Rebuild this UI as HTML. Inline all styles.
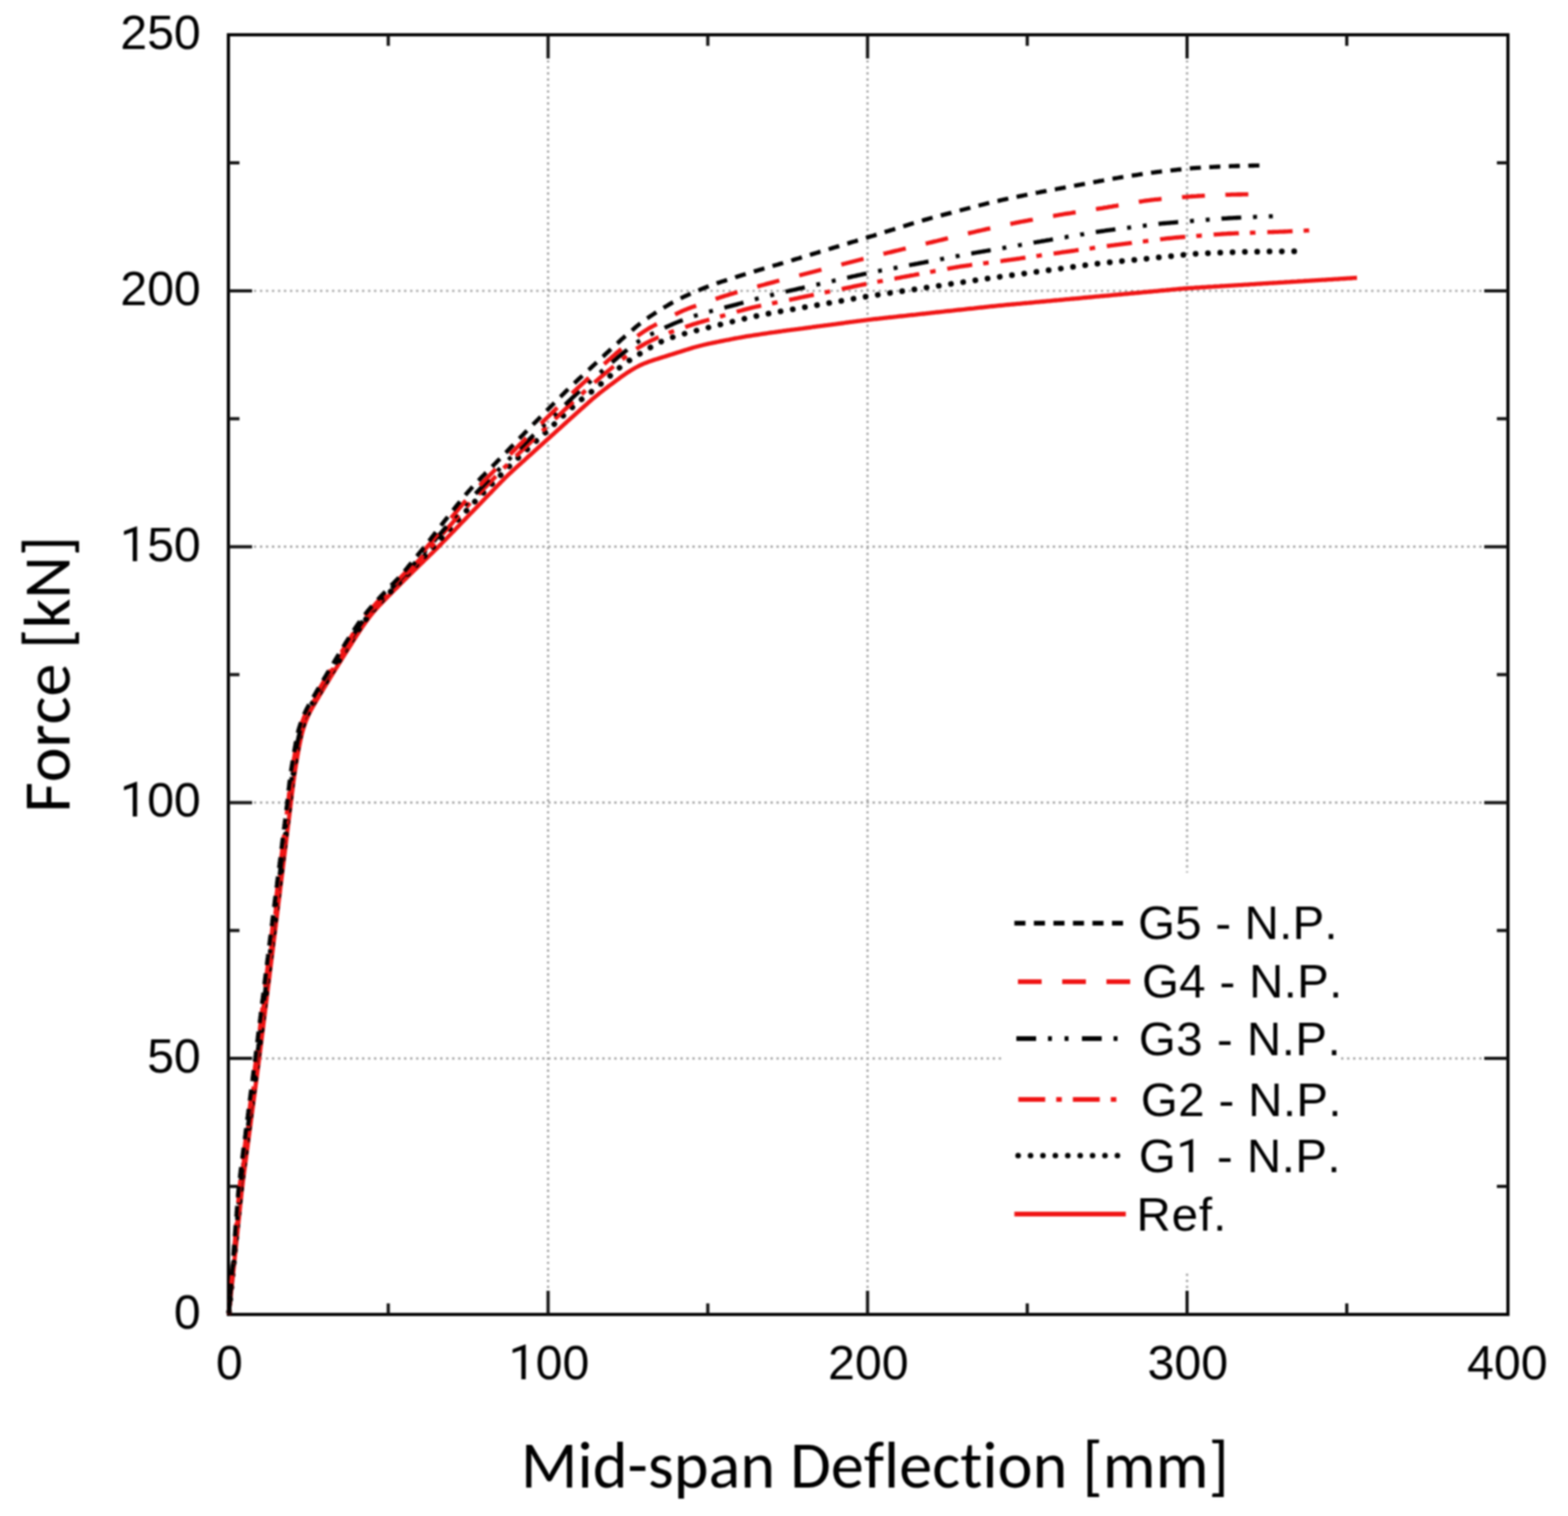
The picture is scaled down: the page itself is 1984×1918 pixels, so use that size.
<!DOCTYPE html>
<html><head><meta charset="utf-8"><title>Force vs Mid-span Deflection</title>
<style>html,body{margin:0;padding:0;background:#fff;width:1984px;height:1918px;overflow:hidden}svg{display:block;filter:blur(1px)}</style>
</head><body>
<svg width="1984" height="1918" viewBox="0 0 1984 1918">
<rect width="1984" height="1918" fill="#fff"/>
<path d="M693.5,46.0 V1661.0 M1097.7,46.0 V1661.0 M1502.0,46.0 V1661.0 M291.0,1339.1 H1906.0 M291.0,1015.4 H1906.0 M291.0,691.7 H1906.0 M291.0,368.0 H1906.0" stroke="#999999" stroke-width="2.7" stroke-dasharray="2.7 4.9" fill="none"/>
<rect x="289.0" y="44.0" width="1619.0" height="1619.0" fill="none" stroke="#000" stroke-width="4"/>
<path d="M491.3,1663.0 v-14.0 M491.3,44.0 v14.0 M693.5,1663.0 v-30.0 M693.5,44.0 v30.0 M895.6,1663.0 v-14.0 M895.6,44.0 v14.0 M1097.7,1663.0 v-30.0 M1097.7,44.0 v30.0 M1299.8,1663.0 v-14.0 M1299.8,44.0 v14.0 M1502.0,1663.0 v-30.0 M1502.0,44.0 v30.0 M1704.1,1663.0 v-14.0 M1704.1,44.0 v14.0 M289.0,1501.0 h14.0 M1908.0,1501.0 h-14.0 M289.0,1339.1 h30.0 M1908.0,1339.1 h-30.0 M289.0,1177.2 h14.0 M1908.0,1177.2 h-14.0 M289.0,1015.4 h30.0 M1908.0,1015.4 h-30.0 M289.0,853.5 h14.0 M1908.0,853.5 h-14.0 M289.0,691.7 h30.0 M1908.0,691.7 h-30.0 M289.0,529.8 h14.0 M1908.0,529.8 h-14.0 M289.0,368.0 h30.0 M1908.0,368.0 h-30.0 M289.0,206.1 h14.0 M1908.0,206.1 h-14.0" stroke="#111" stroke-width="4" fill="none"/>
<g fill="none" stroke-linejoin="round">
<path d="M289.5,1663.0 L289.7,1661.0 L289.9,1659.0 L290.1,1657.0 L290.3,1655.0 L290.5,1653.0 L290.8,1651.0 L291.0,1649.1 L291.2,1647.1 L291.4,1645.1 L291.6,1643.1 L291.8,1641.1 L292.0,1639.1 L292.2,1637.1 L292.4,1635.1 L292.6,1633.1 L292.8,1631.1 L293.1,1629.1 L293.3,1627.1 L293.5,1625.2 L293.7,1623.2 L293.9,1621.2 L294.1,1619.2 L294.3,1617.2 L294.5,1615.2 L294.7,1613.2 L294.9,1611.2 L295.1,1609.2 L295.4,1607.2 L295.6,1605.2 L295.8,1603.2 L296.0,1601.3 L296.2,1599.3 L296.4,1597.3 L296.6,1595.3 L296.8,1593.3 L297.0,1591.3 L297.2,1589.3 L297.4,1587.3 L297.7,1585.3 L297.9,1583.3 L298.1,1581.3 L298.3,1579.3 L298.5,1577.4 L298.7,1575.4 L298.9,1573.4 L299.1,1571.4 L299.3,1569.4 L299.5,1567.4 L299.7,1565.4 L300.0,1563.4 L300.2,1561.4 L300.4,1559.4 L300.6,1557.4 L300.8,1555.4 L301.0,1553.4 L301.2,1551.5 L301.4,1549.5 L301.6,1547.5 L301.8,1545.5 L302.0,1543.5 L302.3,1541.5 L302.5,1539.5 L302.7,1537.5 L302.9,1535.5 L303.1,1533.5 L303.3,1531.5 L303.5,1529.5 L303.7,1527.6 L303.9,1525.6 L304.1,1523.6 L304.3,1521.6 L304.6,1519.6 L304.8,1517.6 L305.0,1515.6 L305.2,1513.6 L305.4,1511.6 L305.6,1509.6 L305.8,1507.6 L306.1,1505.7 L306.3,1503.7 L306.5,1501.7 L306.8,1499.7 L307.0,1497.7 L307.2,1495.7 L307.5,1493.7 L307.7,1491.7 L308.0,1489.7 L308.3,1487.8 L308.5,1485.8 L308.8,1483.8 L309.0,1481.8 L309.3,1479.8 L309.6,1477.8 L309.8,1475.8 L310.1,1473.9 L310.4,1471.9 L310.6,1469.9 L310.9,1467.9 L311.2,1465.9 L311.4,1463.9 L311.7,1462.0 L311.9,1460.0 L312.2,1458.0 L312.5,1456.0 L312.7,1454.0 L313.0,1452.0 L313.3,1450.0 L313.5,1448.1 L313.8,1446.1 L314.1,1444.1 L314.3,1442.1 L314.6,1440.1 L314.8,1438.1 L315.1,1436.1 L315.4,1434.2 L315.6,1432.2 L315.9,1430.2 L316.2,1428.2 L316.4,1426.2 L316.7,1424.2 L317.0,1422.2 L317.2,1420.3 L317.5,1418.3 L317.7,1416.3 L318.0,1414.3 L318.3,1412.3 L318.5,1410.3 L318.8,1408.3 L319.1,1406.4 L319.3,1404.4 L319.6,1402.4 L319.9,1400.4 L320.1,1398.4 L320.4,1396.4 L320.6,1394.4 L320.9,1392.5 L321.2,1390.5 L321.4,1388.5 L321.7,1386.5 L322.0,1384.5 L322.2,1382.5 L322.5,1380.6 L322.7,1378.6 L323.0,1376.6 L323.3,1374.6 L323.5,1372.6 L323.8,1370.6 L324.1,1368.6 L324.3,1366.7 L324.6,1364.7 L324.9,1362.7 L325.1,1360.7 L325.4,1358.7 L325.6,1356.7 L325.9,1354.7 L326.2,1352.8 L326.4,1350.8 L326.7,1348.8 L327.0,1346.8 L327.2,1344.8 L327.5,1342.8 L327.7,1340.8 L328.0,1338.9 L328.2,1336.9 L328.5,1334.9 L328.7,1332.9 L329.0,1330.9 L329.2,1328.9 L329.5,1326.9 L329.7,1324.9 L330.0,1323.0 L330.2,1321.0 L330.5,1319.0 L330.7,1317.0 L331.0,1315.0 L331.2,1313.0 L331.5,1311.0 L331.7,1309.0 L332.0,1307.1 L332.2,1305.1 L332.5,1303.1 L332.7,1301.1 L333.0,1299.1 L333.2,1297.1 L333.4,1295.1 L333.7,1293.1 L333.9,1291.2 L334.2,1289.2 L334.4,1287.2 L334.7,1285.2 L334.9,1283.2 L335.2,1281.2 L335.4,1279.2 L335.7,1277.2 L335.9,1275.3 L336.2,1273.3 L336.4,1271.3 L336.7,1269.3 L336.9,1267.3 L337.2,1265.3 L337.4,1263.3 L337.6,1261.3 L337.9,1259.4 L338.1,1257.4 L338.4,1255.4 L338.6,1253.4 L338.9,1251.4 L339.1,1249.4 L339.4,1247.4 L339.6,1245.4 L339.9,1243.5 L340.1,1241.5 L340.4,1239.5 L340.6,1237.5 L340.9,1235.5 L341.1,1233.5 L341.3,1231.5 L341.6,1229.5 L341.8,1227.6 L342.1,1225.6 L342.3,1223.6 L342.6,1221.6 L342.8,1219.6 L343.1,1217.6 L343.3,1215.6 L343.6,1213.6 L343.8,1211.7 L344.1,1209.7 L344.3,1207.7 L344.6,1205.7 L344.8,1203.7 L345.1,1201.7 L345.3,1199.7 L345.5,1197.7 L345.8,1195.8 L346.0,1193.8 L346.3,1191.8 L346.5,1189.8 L346.8,1187.8 L347.0,1185.8 L347.3,1183.8 L347.5,1181.8 L347.8,1179.9 L348.0,1177.9 L348.3,1175.9 L348.5,1173.9 L348.8,1171.9 L349.0,1169.9 L349.2,1167.9 L349.5,1165.9 L349.7,1164.0 L350.0,1162.0 L350.2,1160.0 L350.5,1158.0 L350.7,1156.0 L351.0,1154.0 L351.2,1152.0 L351.5,1150.0 L351.7,1148.1 L351.9,1146.1 L352.2,1144.1 L352.4,1142.1 L352.7,1140.1 L352.9,1138.1 L353.2,1136.1 L353.4,1134.1 L353.7,1132.2 L353.9,1130.2 L354.2,1128.2 L354.4,1126.2 L354.6,1124.2 L354.9,1122.2 L355.1,1120.2 L355.4,1118.2 L355.6,1116.3 L355.9,1114.3 L356.1,1112.3 L356.4,1110.3 L356.6,1108.3 L356.9,1106.3 L357.1,1104.3 L357.3,1102.3 L357.6,1100.4 L357.8,1098.4 L358.1,1096.4 L358.3,1094.4 L358.6,1092.4 L358.8,1090.4 L359.1,1088.4 L359.3,1086.4 L359.5,1084.4 L359.8,1082.5 L360.0,1080.5 L360.3,1078.5 L360.5,1076.5 L360.8,1074.5 L361.0,1072.5 L361.3,1070.5 L361.5,1068.5 L361.8,1066.6 L362.0,1064.6 L362.2,1062.6 L362.5,1060.6 L362.7,1058.6 L363.0,1056.6 L363.2,1054.6 L363.5,1052.6 L363.7,1050.7 L364.0,1048.7 L364.2,1046.7 L364.5,1044.7 L364.7,1042.7 L364.9,1040.7 L365.2,1038.7 L365.4,1036.7 L365.7,1034.8 L365.9,1032.8 L366.2,1030.8 L366.4,1028.8 L366.7,1026.8 L366.9,1024.8 L367.2,1022.8 L367.4,1020.8 L367.6,1018.9 L367.9,1016.9 L368.1,1014.9 L368.4,1012.9 L368.6,1010.9 L368.9,1008.9 L369.1,1006.9 L369.3,1004.9 L369.6,1002.9 L369.8,1001.0 L370.1,999.0 L370.3,997.0 L370.6,995.0 L370.8,993.0 L371.1,991.0 L371.3,989.0 L371.6,987.1 L371.9,985.1 L372.1,983.1 L372.4,981.1 L372.7,979.1 L373.0,977.1 L373.3,975.2 L373.6,973.2 L373.9,971.2 L374.2,969.2 L374.5,967.2 L374.9,965.3 L375.2,963.3 L375.5,961.3 L375.9,959.3 L376.2,957.4 L376.5,955.4 L376.9,953.4 L377.2,951.5 L377.6,949.5 L377.9,947.5 L378.3,945.5 L378.7,943.6 L379.1,941.6 L379.5,939.6 L379.9,937.7 L380.3,935.7 L380.7,933.8 L381.1,931.8 L381.6,929.9 L382.1,927.9 L382.6,926.0 L383.1,924.1 L383.7,922.2 L384.3,920.2 L384.9,918.3 L385.5,916.5 L386.2,914.6 L386.9,912.7 L387.6,910.8 L388.4,909.0 L389.2,907.2 L390.0,905.3 L390.8,903.5 L391.7,901.7 L392.6,900.0 L393.5,898.2 L394.5,896.4 L395.5,894.7 L396.5,893.0 L397.5,891.2 L398.5,889.5 L399.5,887.8 L400.5,886.1 L401.6,884.4 L402.6,882.6 L403.6,880.9 L404.7,879.2 L405.7,877.5 L406.7,875.8 L407.8,874.1 L408.8,872.3 L409.8,870.6 L410.9,868.9 L411.9,867.2 L412.9,865.5 L414.0,863.8 L415.0,862.1 L416.1,860.4 L417.1,858.7 L418.2,856.9 L419.2,855.2 L420.3,853.5 L421.3,851.8 L422.4,850.1 L423.4,848.4 L424.5,846.7 L425.5,845.0 L426.6,843.3 L427.6,841.6 L428.7,839.9 L429.8,838.2 L430.8,836.5 L431.9,834.8 L432.9,833.1 L434.0,831.4 L435.1,829.7 L436.1,828.0 L437.2,826.3 L438.3,824.6 L439.3,822.9 L440.4,821.2 L441.5,819.6 L442.5,817.9 L443.6,816.2 L444.7,814.5 L445.7,812.8 L446.8,811.1 L447.9,809.4 L449.0,807.7 L450.0,806.0 L451.1,804.3 L452.2,802.6 L453.3,801.0 L454.4,799.3 L455.5,797.6 L456.6,796.0 L457.7,794.3 L458.8,792.6 L460.0,791.0 L461.1,789.3 L462.3,787.7 L463.4,786.1 L464.6,784.5 L465.8,782.8 L467.0,781.2 L468.2,779.6 L469.4,778.1 L470.7,776.5 L471.9,775.0 L473.2,773.4 L474.5,771.9 L475.8,770.4 L477.2,768.9 L478.5,767.5 L479.9,766.0 L481.3,764.6 L482.7,763.1 L484.1,761.7 L485.5,760.3 L486.9,758.8 L488.3,757.4 L489.7,756.0 L491.1,754.5 L492.5,753.1 L493.9,751.7 L495.3,750.3 L496.7,748.8 L498.1,747.4 L499.5,746.0 L500.9,744.6 L502.4,743.2 L503.8,741.7 L505.2,740.3 L506.6,738.9 L508.0,737.5 L509.4,736.1 L510.8,734.7 L512.3,733.2 L513.7,731.8 L515.1,730.4 L516.5,729.0 L518.0,727.6 L519.4,726.2 L520.8,724.8 L522.2,723.4 L523.7,722.0 L525.1,720.6 L526.6,719.2 L528.0,717.8 L529.4,716.4 L530.9,715.0 L532.3,713.6 L533.7,712.2 L535.2,710.8 L536.6,709.4 L538.0,708.0 L539.5,706.7 L540.9,705.3 L542.4,703.9 L543.8,702.5 L545.2,701.1 L546.7,699.7 L548.1,698.3 L549.5,696.9 L551.0,695.5 L552.4,694.1 L553.8,692.6 L555.2,691.2 L556.6,689.8 L558.0,688.4 L559.4,687.0 L560.8,685.5 L562.2,684.1 L563.6,682.7 L565.0,681.2 L566.4,679.8 L567.8,678.3 L569.2,676.9 L570.6,675.5 L572.0,674.0 L573.4,672.6 L574.8,671.1 L576.2,669.7 L577.5,668.3 L578.9,666.8 L580.3,665.4 L581.7,663.9 L583.1,662.5 L584.5,661.0 L585.9,659.6 L587.3,658.2 L588.7,656.7 L590.1,655.3 L591.5,653.8 L592.8,652.4 L594.2,651.0 L595.6,649.5 L597.0,648.1 L598.4,646.6 L599.8,645.2 L601.2,643.8 L602.6,642.3 L604.0,640.9 L605.4,639.4 L606.8,638.0 L608.2,636.6 L609.5,635.1 L610.9,633.7 L612.3,632.2 L613.7,630.8 L615.1,629.3 L616.5,627.9 L617.9,626.5 L619.3,625.0 L620.7,623.6 L622.1,622.1 L623.4,620.7 L624.8,619.3 L626.2,617.8 L627.6,616.4 L629.0,614.9 L630.4,613.5 L631.8,612.1 L633.2,610.6 L634.6,609.2 L636.0,607.8 L637.4,606.4 L638.8,604.9 L640.3,603.5 L641.7,602.1 L643.1,600.8 L644.6,599.4 L646.1,598.0 L647.5,596.7 L649.0,595.3 L650.5,593.9 L652.0,592.6 L653.4,591.3 L654.9,589.9 L656.4,588.6 L657.9,587.2 L659.4,585.9 L660.9,584.5 L662.4,583.2 L663.9,581.9 L665.3,580.5 L666.8,579.2 L668.3,577.8 L669.8,576.5 L671.3,575.2 L672.8,573.8 L674.3,572.5 L675.8,571.1 L677.2,569.8 L678.7,568.5 L680.2,567.1 L681.7,565.8 L683.2,564.4 L684.7,563.1 L686.2,561.8 L687.7,560.4 L689.1,559.1 L690.6,557.7 L692.1,556.4 L693.6,555.1 L695.1,553.7 L696.6,552.4 L698.1,551.0 L699.6,549.7 L701.1,548.4 L702.5,547.0 L704.0,545.7 L705.5,544.3 L707.0,543.0 L708.5,541.7 L710.0,540.3 L711.5,539.0 L713.0,537.6 L714.5,536.3 L715.9,535.0 L717.4,533.6 L718.9,532.3 L720.4,530.9 L721.9,529.6 L723.4,528.3 L724.9,526.9 L726.4,525.6 L727.9,524.2 L729.3,522.9 L730.8,521.6 L732.3,520.2 L733.8,518.9 L735.3,517.5 L736.8,516.2 L738.3,514.9 L739.8,513.6 L741.3,512.2 L742.8,510.9 L744.3,509.6 L745.8,508.3 L747.3,506.9 L748.8,505.6 L750.3,504.3 L751.9,503.0 L753.4,501.7 L754.9,500.5 L756.5,499.2 L758.0,497.9 L759.6,496.7 L761.2,495.5 L762.8,494.2 L764.4,493.0 L765.9,491.8 L767.5,490.6 L769.1,489.4 L770.7,488.2 L772.3,487.0 L773.9,485.8 L775.6,484.6 L777.2,483.4 L778.8,482.2 L780.4,481.0 L782.0,479.8 L783.6,478.6 L785.2,477.4 L786.8,476.3 L788.5,475.1 L790.1,474.0 L791.8,472.9 L793.4,471.7 L795.1,470.6 L796.8,469.6 L798.5,468.5 L800.2,467.5 L801.9,466.5 L803.6,465.5 L805.4,464.5 L807.2,463.6 L808.9,462.7 L810.7,461.8 L812.6,461.0 L814.4,460.2 L816.2,459.4 L818.1,458.7 L820.0,458.0 L821.8,457.3 L823.7,456.7 L825.6,456.0 L827.5,455.4 L829.4,454.8 L831.3,454.2 L833.2,453.6 L835.1,453.0 L837.1,452.4 L839.0,451.8 L840.9,451.2 L842.8,450.6 L844.7,450.0 L846.6,449.4 L848.5,448.8 L850.4,448.2 L852.3,447.6 L854.3,447.0 L856.2,446.4 L858.1,445.8 L860.0,445.2 L861.9,444.6 L863.8,444.0 L865.7,443.4 L867.6,442.8 L869.5,442.2 L871.4,441.6 L873.4,441.0 L875.3,440.4 L877.2,439.8 L879.1,439.3 L881.0,438.7 L883.0,438.2 L884.9,437.7 L886.8,437.2 L888.8,436.7 L890.7,436.2 L892.7,435.8 L894.6,435.3 L896.6,434.9 L898.5,434.5 L900.5,434.1 L902.5,433.7 L904.4,433.3 L906.4,432.9 L908.4,432.5 L910.3,432.1 L912.3,431.7 L914.2,431.3 L916.2,430.9 L918.2,430.5 L920.1,430.1 L922.1,429.8 L924.1,429.4 L926.0,429.0 L928.0,428.6 L930.0,428.2 L931.9,427.8 L933.9,427.5 L935.9,427.1 L937.8,426.8 L939.8,426.4 L941.8,426.1 L943.8,425.7 L945.7,425.4 L947.7,425.1 L949.7,424.8 L951.7,424.5 L953.6,424.2 L955.6,423.9 L957.6,423.6 L959.6,423.3 L961.6,423.0 L963.5,422.7 L965.5,422.4 L967.5,422.1 L969.5,421.8 L971.5,421.5 L973.5,421.2 L975.4,420.9 L977.4,420.6 L979.4,420.4 L981.4,420.1 L983.4,419.8 L985.3,419.5 L987.3,419.3 L989.3,419.0 L991.3,418.7 L993.3,418.5 L995.3,418.2 L997.3,417.9 L999.2,417.7 L1001.2,417.4 L1003.2,417.1 L1005.2,416.9 L1007.2,416.6 L1009.2,416.4 L1011.2,416.1 L1013.1,415.8 L1015.1,415.6 L1017.1,415.3 L1019.1,415.0 L1021.1,414.8 L1023.1,414.5 L1025.1,414.3 L1027.0,414.0 L1029.0,413.7 L1031.0,413.5 L1033.0,413.2 L1035.0,412.9 L1037.0,412.7 L1039.0,412.4 L1040.9,412.2 L1042.9,411.9 L1044.9,411.6 L1046.9,411.4 L1048.9,411.1 L1050.9,410.9 L1052.9,410.6 L1054.8,410.3 L1056.8,410.1 L1058.8,409.8 L1060.8,409.5 L1062.8,409.3 L1064.8,409.0 L1066.8,408.8 L1068.7,408.5 L1070.7,408.2 L1072.7,408.0 L1074.7,407.7 L1076.7,407.4 L1078.7,407.2 L1080.7,406.9 L1082.6,406.7 L1084.6,406.4 L1086.6,406.1 L1088.6,405.9 L1090.6,405.6 L1092.6,405.4 L1094.6,405.1 L1096.5,404.9 L1098.5,404.6 L1100.5,404.4 L1102.5,404.2 L1104.5,403.9 L1106.5,403.7 L1108.5,403.5 L1110.5,403.3 L1112.5,403.0 L1114.4,402.8 L1116.4,402.6 L1118.4,402.4 L1120.4,402.2 L1122.4,402.0 L1124.4,401.7 L1126.4,401.5 L1128.4,401.3 L1130.4,401.1 L1132.4,400.9 L1134.4,400.7 L1136.4,400.4 L1138.3,400.2 L1140.3,400.0 L1142.3,399.8 L1144.3,399.6 L1146.3,399.4 L1148.3,399.1 L1150.3,398.9 L1152.3,398.7 L1154.3,398.5 L1156.3,398.3 L1158.3,398.1 L1160.2,397.8 L1162.2,397.6 L1164.2,397.4 L1166.2,397.2 L1168.2,397.0 L1170.2,396.8 L1172.2,396.5 L1174.2,396.3 L1176.2,396.1 L1178.2,395.9 L1180.2,395.7 L1182.1,395.5 L1184.1,395.2 L1186.1,395.0 L1188.1,394.8 L1190.1,394.6 L1192.1,394.4 L1194.1,394.2 L1196.1,393.9 L1198.1,393.7 L1200.1,393.5 L1202.1,393.3 L1204.0,393.1 L1206.0,392.9 L1208.0,392.6 L1210.0,392.4 L1212.0,392.2 L1214.0,392.0 L1216.0,391.8 L1218.0,391.6 L1220.0,391.4 L1222.0,391.1 L1224.0,390.9 L1225.9,390.7 L1227.9,390.5 L1229.9,390.3 L1231.9,390.1 L1233.9,389.8 L1235.9,389.6 L1237.9,389.4 L1239.9,389.2 L1241.9,389.0 L1243.9,388.8 L1245.9,388.5 L1247.8,388.3 L1249.8,388.1 L1251.8,387.9 L1253.8,387.7 L1255.8,387.5 L1257.8,387.3 L1259.8,387.1 L1261.8,386.9 L1263.8,386.7 L1265.8,386.5 L1267.8,386.3 L1269.8,386.1 L1271.8,385.9 L1273.8,385.7 L1275.7,385.5 L1277.7,385.4 L1279.7,385.2 L1281.7,385.0 L1283.7,384.8 L1285.7,384.6 L1287.7,384.4 L1289.7,384.3 L1291.7,384.1 L1293.7,383.9 L1295.7,383.7 L1297.7,383.5 L1299.7,383.3 L1301.7,383.2 L1303.7,383.0 L1305.7,382.8 L1307.7,382.6 L1309.7,382.4 L1311.6,382.2 L1313.6,382.1 L1315.6,381.9 L1317.6,381.7 L1319.6,381.5 L1321.6,381.3 L1323.6,381.1 L1325.6,380.9 L1327.6,380.8 L1329.6,380.6 L1331.6,380.4 L1333.6,380.2 L1335.6,380.0 L1337.6,379.8 L1339.6,379.7 L1341.6,379.5 L1343.6,379.3 L1345.6,379.1 L1347.5,378.9 L1349.5,378.7 L1351.5,378.6 L1353.5,378.4 L1355.5,378.2 L1357.5,378.0 L1359.5,377.8 L1361.5,377.6 L1363.5,377.5 L1365.5,377.3 L1367.5,377.1 L1369.5,376.9 L1371.5,376.7 L1373.5,376.5 L1375.5,376.4 L1377.5,376.2 L1379.5,376.0 L1381.4,375.8 L1383.4,375.6 L1385.4,375.4 L1387.4,375.2 L1389.4,375.1 L1391.4,374.9 L1393.4,374.7 L1395.4,374.5 L1397.4,374.3 L1399.4,374.1 L1401.4,374.0 L1403.4,373.8 L1405.4,373.6 L1407.4,373.4 L1409.4,373.2 L1411.4,373.0 L1413.4,372.9 L1415.4,372.7 L1417.3,372.5 L1419.3,372.3 L1421.3,372.1 L1423.3,371.9 L1425.3,371.8 L1427.3,371.6 L1429.3,371.4 L1431.3,371.2 L1433.3,371.0 L1435.3,370.8 L1437.3,370.6 L1439.3,370.5 L1441.3,370.3 L1443.3,370.1 L1445.3,369.9 L1447.3,369.7 L1449.3,369.5 L1451.2,369.4 L1453.2,369.2 L1455.2,369.0 L1457.2,368.8 L1459.2,368.6 L1461.2,368.4 L1463.2,368.3 L1465.2,368.1 L1467.2,367.9 L1469.2,367.7 L1471.2,367.5 L1473.2,367.3 L1475.2,367.2 L1477.2,367.0 L1479.2,366.8 L1481.2,366.6 L1483.2,366.4 L1485.2,366.2 L1487.1,366.1 L1489.1,365.9 L1491.1,365.7 L1493.1,365.5 L1495.1,365.4 L1497.1,365.2 L1499.1,365.0 L1501.1,364.9 L1503.1,364.7 L1505.1,364.6 L1507.1,364.4 L1509.1,364.3 L1511.1,364.2 L1513.1,364.0 L1515.1,363.9 L1517.1,363.8 L1519.1,363.6 L1521.1,363.5 L1523.1,363.4 L1525.1,363.3 L1527.1,363.1 L1529.1,363.0 L1531.1,362.9 L1533.1,362.8 L1535.1,362.7 L1537.1,362.5 L1539.1,362.4 L1541.1,362.3 L1543.1,362.2 L1545.1,362.0 L1547.1,361.9 L1549.1,361.8 L1551.1,361.7 L1553.1,361.6 L1555.1,361.4 L1557.1,361.3 L1559.1,361.2 L1561.1,361.1 L1563.1,360.9 L1565.1,360.8 L1567.1,360.7 L1569.1,360.6 L1571.1,360.5 L1573.1,360.3 L1575.1,360.2 L1577.1,360.1 L1579.1,360.0 L1581.1,359.8 L1583.1,359.7 L1585.1,359.6 L1587.1,359.5 L1589.1,359.3 L1591.1,359.2 L1593.1,359.1 L1595.1,359.0 L1597.1,358.9 L1599.1,358.7 L1601.1,358.6 L1603.1,358.5 L1605.1,358.4 L1607.1,358.2 L1609.1,358.1 L1611.1,358.0 L1613.1,357.9 L1615.0,357.8 L1617.0,357.6 L1619.0,357.5 L1621.0,357.4 L1623.0,357.3 L1625.0,357.1 L1627.0,357.0 L1629.0,356.9 L1631.0,356.8 L1633.0,356.6 L1635.0,356.5 L1637.0,356.4 L1639.0,356.3 L1641.0,356.2 L1643.0,356.0 L1645.0,355.9 L1647.0,355.8 L1649.0,355.7 L1651.0,355.5 L1653.0,355.4 L1655.0,355.3 L1657.0,355.2 L1659.0,355.1 L1661.0,354.9 L1663.0,354.8 L1665.0,354.7 L1667.0,354.6 L1669.0,354.4 L1671.0,354.3 L1673.0,354.2 L1675.0,354.1 L1677.0,354.0 L1679.0,353.8 L1681.0,353.7 L1683.0,353.6 L1685.0,353.5 L1687.0,353.3 L1689.0,353.2 L1691.0,353.1 L1693.0,353.0 L1695.0,352.8 L1697.0,352.7 L1699.0,352.6 L1701.0,352.5 L1703.0,352.4 L1705.0,352.2 L1707.0,352.1 L1709.0,352.0 L1711.0,351.9 L1713.0,351.7 L1715.0,351.6 L1717.0,351.5" stroke="#f01414" stroke-width="5.3"/>
<path d="M289.5,1663.0 L289.7,1661.0 L289.9,1659.0 L290.1,1657.0 L290.3,1655.0 L290.5,1653.0 L290.7,1651.0 L290.8,1649.0 L291.0,1647.1 L291.2,1645.1 L291.4,1643.1 L291.6,1641.1 L291.8,1639.1 L292.0,1637.1 L292.2,1635.1 L292.4,1633.1 L292.6,1631.1 L292.8,1629.1 L293.0,1627.1 L293.2,1625.1 L293.4,1623.1 L293.5,1621.1 L293.7,1619.2 L293.9,1617.2 L294.1,1615.2 L294.3,1613.2 L294.5,1611.2 L294.7,1609.2 L294.9,1607.2 L295.1,1605.2 L295.3,1603.2 L295.5,1601.2 L295.7,1599.2 L295.9,1597.2 L296.0,1595.2 L296.2,1593.2 L296.4,1591.2 L296.6,1589.3 L296.8,1587.3 L297.0,1585.3 L297.2,1583.3 L297.4,1581.3 L297.6,1579.3 L297.8,1577.3 L298.0,1575.3 L298.2,1573.3 L298.4,1571.3 L298.5,1569.3 L298.7,1567.3 L298.9,1565.3 L299.1,1563.3 L299.3,1561.3 L299.5,1559.4 L299.7,1557.4 L299.9,1555.4 L300.1,1553.4 L300.3,1551.4 L300.5,1549.4 L300.7,1547.4 L300.9,1545.4 L301.1,1543.4 L301.2,1541.4 L301.4,1539.4 L301.6,1537.4 L301.8,1535.4 L302.0,1533.4 L302.2,1531.5 L302.4,1529.5 L302.6,1527.5 L302.8,1525.5 L303.0,1523.5 L303.2,1521.5 L303.4,1519.5 L303.6,1517.5 L303.8,1515.5 L304.0,1513.5 L304.2,1511.5 L304.4,1509.5 L304.6,1507.5 L304.8,1505.5 L305.0,1503.6 L305.2,1501.6 L305.4,1499.6 L305.7,1497.6 L305.9,1495.6 L306.2,1493.6 L306.4,1491.6 L306.7,1489.6 L306.9,1487.7 L307.2,1485.7 L307.4,1483.7 L307.7,1481.7 L308.0,1479.7 L308.2,1477.7 L308.5,1475.7 L308.7,1473.8 L309.0,1471.8 L309.3,1469.8 L309.5,1467.8 L309.8,1465.8 L310.0,1463.8 L310.3,1461.8 L310.6,1459.9 L310.8,1457.9 L311.1,1455.9 L311.4,1453.9 L311.6,1451.9 L311.9,1449.9 L312.1,1447.9 L312.4,1446.0 L312.7,1444.0 L312.9,1442.0 L313.2,1440.0 L313.5,1438.0 L313.7,1436.0 L314.0,1434.1 L314.2,1432.1 L314.5,1430.1 L314.8,1428.1 L315.0,1426.1 L315.3,1424.1 L315.5,1422.1 L315.8,1420.2 L316.1,1418.2 L316.3,1416.2 L316.6,1414.2 L316.9,1412.2 L317.1,1410.2 L317.4,1408.2 L317.6,1406.3 L317.9,1404.3 L318.2,1402.3 L318.4,1400.3 L318.7,1398.3 L318.9,1396.3 L319.2,1394.3 L319.5,1392.4 L319.7,1390.4 L320.0,1388.4 L320.3,1386.4 L320.5,1384.4 L320.8,1382.4 L321.0,1380.4 L321.3,1378.5 L321.6,1376.5 L321.8,1374.5 L322.1,1372.5 L322.3,1370.5 L322.6,1368.5 L322.9,1366.6 L323.1,1364.6 L323.4,1362.6 L323.7,1360.6 L323.9,1358.6 L324.2,1356.6 L324.4,1354.6 L324.7,1352.7 L325.0,1350.7 L325.2,1348.7 L325.5,1346.7 L325.7,1344.7 L326.0,1342.7 L326.2,1340.7 L326.5,1338.8 L326.8,1336.8 L327.0,1334.8 L327.3,1332.8 L327.5,1330.8 L327.8,1328.8 L328.0,1326.8 L328.3,1324.8 L328.5,1322.9 L328.8,1320.9 L329.0,1318.9 L329.2,1316.9 L329.5,1314.9 L329.7,1312.9 L330.0,1310.9 L330.2,1308.9 L330.5,1307.0 L330.7,1305.0 L331.0,1303.0 L331.2,1301.0 L331.5,1299.0 L331.7,1297.0 L332.0,1295.0 L332.2,1293.1 L332.5,1291.1 L332.7,1289.1 L332.9,1287.1 L333.2,1285.1 L333.4,1283.1 L333.7,1281.1 L333.9,1279.1 L334.2,1277.2 L334.4,1275.2 L334.7,1273.2 L334.9,1271.2 L335.2,1269.2 L335.4,1267.2 L335.7,1265.2 L335.9,1263.2 L336.2,1261.3 L336.4,1259.3 L336.7,1257.3 L336.9,1255.3 L337.1,1253.3 L337.4,1251.3 L337.6,1249.3 L337.9,1247.3 L338.1,1245.4 L338.4,1243.4 L338.6,1241.4 L338.9,1239.4 L339.1,1237.4 L339.4,1235.4 L339.6,1233.4 L339.9,1231.4 L340.1,1229.5 L340.4,1227.5 L340.6,1225.5 L340.8,1223.5 L341.1,1221.5 L341.3,1219.5 L341.6,1217.5 L341.8,1215.6 L342.1,1213.6 L342.3,1211.6 L342.6,1209.6 L342.8,1207.6 L343.1,1205.6 L343.3,1203.6 L343.6,1201.6 L343.8,1199.7 L344.1,1197.7 L344.3,1195.7 L344.6,1193.7 L344.8,1191.7 L345.0,1189.7 L345.3,1187.7 L345.5,1185.7 L345.8,1183.8 L346.0,1181.8 L346.3,1179.8 L346.5,1177.8 L346.8,1175.8 L347.0,1173.8 L347.3,1171.8 L347.5,1169.8 L347.8,1167.9 L348.0,1165.9 L348.3,1163.9 L348.5,1161.9 L348.8,1159.9 L349.0,1157.9 L349.2,1155.9 L349.5,1153.9 L349.7,1152.0 L350.0,1150.0 L350.2,1148.0 L350.5,1146.0 L350.7,1144.0 L351.0,1142.0 L351.2,1140.0 L351.5,1138.1 L351.7,1136.1 L352.0,1134.1 L352.2,1132.1 L352.5,1130.1 L352.7,1128.1 L353.0,1126.1 L353.2,1124.1 L353.4,1122.2 L353.7,1120.2 L353.9,1118.2 L354.2,1116.2 L354.4,1114.2 L354.7,1112.2 L354.9,1110.2 L355.2,1108.2 L355.4,1106.3 L355.7,1104.3 L355.9,1102.3 L356.2,1100.3 L356.4,1098.3 L356.7,1096.3 L356.9,1094.3 L357.2,1092.3 L357.4,1090.4 L357.6,1088.4 L357.9,1086.4 L358.1,1084.4 L358.4,1082.4 L358.6,1080.4 L358.9,1078.4 L359.1,1076.5 L359.4,1074.5 L359.6,1072.5 L359.9,1070.5 L360.1,1068.5 L360.4,1066.5 L360.6,1064.5 L360.9,1062.5 L361.1,1060.6 L361.4,1058.6 L361.6,1056.6 L361.8,1054.6 L362.1,1052.6 L362.3,1050.6 L362.6,1048.6 L362.8,1046.6 L363.1,1044.7 L363.3,1042.7 L363.6,1040.7 L363.8,1038.7 L364.1,1036.7 L364.3,1034.7 L364.6,1032.7 L364.8,1030.7 L365.1,1028.8 L365.3,1026.8 L365.5,1024.8 L365.8,1022.8 L366.0,1020.8 L366.3,1018.8 L366.5,1016.8 L366.8,1014.8 L367.0,1012.9 L367.2,1010.9 L367.5,1008.9 L367.7,1006.9 L367.9,1004.9 L368.2,1002.9 L368.4,1000.9 L368.6,998.9 L368.9,996.9 L369.1,995.0 L369.4,993.0 L369.6,991.0 L369.9,989.0 L370.1,987.0 L370.4,985.0 L370.7,983.0 L371.0,981.1 L371.2,979.1 L371.5,977.1 L371.8,975.1 L372.1,973.1 L372.4,971.2 L372.7,969.2 L373.1,967.2 L373.4,965.2 L373.7,963.3 L374.0,961.3 L374.4,959.3 L374.7,957.3 L375.0,955.4 L375.4,953.4 L375.7,951.4 L376.1,949.4 L376.4,947.5 L376.8,945.5 L377.2,943.5 L377.5,941.6 L377.9,939.6 L378.3,937.6 L378.7,935.7 L379.1,933.7 L379.6,931.8 L380.0,929.8 L380.5,927.9 L381.0,926.0 L381.6,924.0 L382.1,922.1 L382.7,920.2 L383.3,918.3 L383.9,916.4 L384.6,914.5 L385.3,912.6 L386.0,910.8 L386.8,908.9 L387.5,907.1 L388.3,905.3 L389.2,903.4 L390.0,901.6 L390.9,899.9 L391.8,898.1 L392.8,896.3 L393.7,894.6 L394.7,892.8 L395.7,891.1 L396.7,889.3 L397.7,887.6 L398.7,885.9 L399.7,884.2 L400.8,882.4 L401.8,880.7 L402.8,879.0 L403.8,877.3 L404.9,875.6 L405.9,873.8 L406.9,872.1 L407.9,870.4 L409.0,868.7 L410.0,867.0 L411.0,865.2 L412.0,863.5 L413.1,861.8 L414.1,860.1 L415.2,858.4 L416.2,856.7 L417.2,855.0 L418.3,853.3 L419.3,851.5 L420.4,849.8 L421.4,848.1 L422.5,846.4 L423.5,844.7 L424.6,843.0 L425.6,841.3 L426.7,839.6 L427.7,837.9 L428.8,836.2 L429.8,834.5 L430.9,832.8 L431.9,831.1 L433.0,829.4 L434.0,827.7 L435.1,826.0 L436.2,824.3 L437.2,822.6 L438.3,820.9 L439.3,819.2 L440.4,817.5 L441.5,815.8 L442.5,814.1 L443.6,812.4 L444.7,810.7 L445.7,809.0 L446.8,807.3 L447.9,805.6 L449.0,804.0 L450.1,802.3 L451.2,800.6 L452.3,798.9 L453.4,797.3 L454.5,795.6 L455.6,793.9 L456.7,792.3 L457.9,790.6 L459.0,789.0 L460.2,787.4 L461.3,785.7 L462.5,784.1 L463.7,782.5 L464.9,780.9 L466.1,779.3 L467.4,777.8 L468.6,776.2 L469.9,774.6 L471.2,773.1 L472.4,771.6 L473.8,770.1 L475.1,768.6 L476.4,767.1 L477.8,765.6 L479.1,764.1 L480.5,762.6 L481.8,761.2 L483.2,759.7 L484.6,758.3 L486.0,756.9 L487.4,755.4 L488.8,754.0 L490.2,752.5 L491.6,751.1 L493.0,749.7 L494.4,748.3 L495.8,746.8 L497.2,745.4 L498.6,744.0 L500.0,742.5 L501.4,741.1 L502.8,739.7 L504.2,738.2 L505.6,736.8 L507.0,735.4 L508.4,733.9 L509.8,732.5 L511.2,731.0 L512.5,729.6 L513.9,728.2 L515.3,726.7 L516.7,725.2 L518.1,723.8 L519.4,722.3 L520.8,720.9 L522.2,719.4 L523.6,718.0 L525.0,716.5 L526.4,715.1 L527.7,713.6 L529.1,712.2 L530.5,710.7 L531.9,709.3 L533.3,707.8 L534.6,706.4 L536.0,704.9 L537.4,703.5 L538.8,702.0 L540.1,700.6 L541.5,699.1 L542.9,697.7 L544.3,696.2 L545.6,694.7 L547.0,693.3 L548.4,691.8 L549.7,690.3 L551.1,688.9 L552.4,687.4 L553.8,685.9 L555.2,684.5 L556.5,683.0 L557.9,681.5 L559.2,680.0 L560.6,678.5 L561.9,677.1 L563.3,675.6 L564.6,674.1 L565.9,672.6 L567.3,671.1 L568.6,669.7 L570.0,668.2 L571.3,666.7 L572.7,665.2 L574.0,663.7 L575.4,662.2 L576.7,660.8 L578.1,659.3 L579.4,657.8 L580.8,656.3 L582.1,654.8 L583.5,653.4 L584.8,651.9 L586.2,650.4 L587.5,648.9 L588.9,647.5 L590.3,646.0 L591.6,644.5 L593.0,643.1 L594.4,641.6 L595.7,640.2 L597.1,638.7 L598.5,637.2 L599.9,635.8 L601.2,634.3 L602.6,632.9 L604.0,631.4 L605.4,630.0 L606.8,628.6 L608.2,627.1 L609.6,625.7 L611.0,624.2 L612.3,622.8 L613.7,621.4 L615.1,619.9 L616.5,618.5 L617.9,617.1 L619.3,615.6 L620.7,614.2 L622.1,612.7 L623.5,611.3 L624.9,609.9 L626.3,608.4 L627.7,607.0 L629.1,605.6 L630.5,604.1 L631.9,602.7 L633.3,601.3 L634.7,599.8 L636.1,598.4 L637.5,597.0 L638.9,595.6 L640.3,594.1 L641.7,592.7 L643.2,591.3 L644.6,589.9 L646.0,588.5 L647.5,587.1 L648.9,585.8 L650.4,584.4 L651.8,583.0 L653.3,581.6 L654.7,580.2 L656.2,578.9 L657.6,577.5 L659.1,576.1 L660.6,574.8 L662.0,573.4 L663.5,572.0 L664.9,570.7 L666.4,569.3 L667.9,567.9 L669.3,566.5 L670.8,565.2 L672.3,563.8 L673.7,562.4 L675.2,561.1 L676.6,559.7 L678.1,558.3 L679.6,557.0 L681.0,555.6 L682.5,554.2 L684.0,552.9 L685.4,551.5 L686.9,550.1 L688.3,548.8 L689.8,547.4 L691.3,546.0 L692.7,544.7 L694.2,543.3 L695.7,541.9 L697.1,540.6 L698.6,539.2 L700.0,537.8 L701.5,536.5 L703.0,535.1 L704.4,533.7 L705.9,532.4 L707.4,531.0 L708.8,529.6 L710.3,528.3 L711.8,526.9 L713.2,525.5 L714.7,524.2 L716.2,522.8 L717.6,521.5 L719.1,520.1 L720.6,518.7 L722.1,517.4 L723.5,516.0 L725.0,514.7 L726.5,513.4 L728.0,512.0 L729.5,510.7 L731.0,509.4 L732.5,508.1 L734.0,506.8 L735.6,505.5 L737.1,504.3 L738.7,503.0 L740.2,501.8 L741.8,500.6 L743.4,499.4 L745.0,498.2 L746.6,497.0 L748.1,495.8 L749.7,494.5 L751.3,493.3 L752.8,492.0 L754.4,490.7 L755.9,489.5 L757.4,488.2 L759.0,486.9 L760.5,485.6 L762.0,484.3 L763.5,483.0 L765.0,481.7 L766.5,480.4 L768.1,479.0 L769.6,477.7 L771.1,476.4 L772.5,475.1 L774.0,473.7 L775.5,472.4 L777.0,471.1 L778.5,469.8 L780.1,468.5 L781.6,467.2 L783.1,465.9 L784.7,464.6 L786.2,463.4 L787.8,462.1 L789.4,460.9 L791.0,459.7 L792.6,458.5 L794.2,457.4 L795.9,456.3 L797.5,455.2 L799.2,454.1 L800.9,453.0 L802.6,451.9 L804.3,450.9 L806.0,449.8 L807.7,448.8 L809.4,447.7 L811.1,446.7 L812.8,445.7 L814.6,444.6 L816.3,443.6 L818.0,442.6 L819.7,441.5 L821.4,440.5 L823.2,439.5 L824.9,438.5 L826.6,437.5 L828.4,436.6 L830.2,435.6 L831.9,434.7 L833.7,433.8 L835.5,432.9 L837.3,432.0 L839.1,431.2 L840.9,430.4 L842.8,429.7 L844.6,428.9 L846.5,428.2 L848.4,427.5 L850.3,426.9 L852.2,426.3 L854.1,425.7 L856.0,425.1 L857.9,424.5 L859.8,423.9 L861.7,423.4 L863.7,422.8 L865.6,422.3 L867.5,421.8 L869.5,421.3 L871.4,420.8 L873.3,420.2 L875.3,419.7 L877.2,419.2 L879.2,418.7 L881.1,418.2 L883.0,417.7 L885.0,417.3 L886.9,416.8 L888.9,416.3 L890.8,415.8 L892.7,415.3 L894.7,414.8 L896.6,414.3 L898.6,413.9 L900.5,413.4 L902.5,412.9 L904.4,412.4 L906.3,411.9 L908.3,411.4 L910.2,410.9 L912.2,410.4 L914.1,410.0 L916.1,409.5 L918.0,409.0 L919.9,408.5 L921.9,408.0 L923.8,407.6 L925.8,407.1 L927.7,406.6 L929.7,406.1 L931.6,405.7 L933.6,405.2 L935.5,404.7 L937.5,404.3 L939.4,403.8 L941.4,403.4 L943.3,402.9 L945.3,402.5 L947.2,402.0 L949.2,401.6 L951.1,401.2 L953.1,400.7 L955.0,400.3 L957.0,399.9 L959.0,399.5 L960.9,399.1 L962.9,398.7 L964.8,398.2 L966.8,397.8 L968.8,397.4 L970.7,397.1 L972.7,396.7 L974.7,396.3 L976.6,395.9 L978.6,395.6 L980.6,395.2 L982.5,394.9 L984.5,394.5 L986.5,394.2 L988.5,393.8 L990.4,393.5 L992.4,393.1 L994.4,392.8 L996.3,392.5 L998.3,392.1 L1000.3,391.8 L1002.3,391.4 L1004.2,391.1 L1006.2,390.8 L1008.2,390.4 L1010.2,390.1 L1012.1,389.7 L1014.1,389.4 L1016.1,389.0 L1018.0,388.7 L1020.0,388.4 L1022.0,388.0 L1024.0,387.7 L1025.9,387.3 L1027.9,387.0 L1029.9,386.7 L1031.9,386.3 L1033.8,386.0 L1035.8,385.6 L1037.8,385.3 L1039.8,385.0 L1041.7,384.6 L1043.7,384.3 L1045.7,383.9 L1047.6,383.6 L1049.6,383.2 L1051.6,382.9 L1053.6,382.6 L1055.5,382.2 L1057.5,381.9 L1059.5,381.5 L1061.5,381.2 L1063.4,380.9 L1065.4,380.5 L1067.4,380.2 L1069.3,379.8 L1071.3,379.5 L1073.3,379.1 L1075.3,378.8 L1077.2,378.5 L1079.2,378.1 L1081.2,377.8 L1083.2,377.4 L1085.1,377.1 L1087.1,376.8 L1089.1,376.4 L1091.1,376.1 L1093.0,375.8 L1095.0,375.4 L1097.0,375.1 L1099.0,374.8 L1100.9,374.5 L1102.9,374.2 L1104.9,373.9 L1106.9,373.6 L1108.9,373.3 L1110.8,373.0 L1112.8,372.7 L1114.8,372.4 L1116.8,372.1 L1118.8,371.8 L1120.7,371.5 L1122.7,371.2 L1124.7,370.9 L1126.7,370.6 L1128.7,370.3 L1130.6,370.0 L1132.6,369.7 L1134.6,369.4 L1136.6,369.1 L1138.6,368.8 L1140.5,368.5 L1142.5,368.2 L1144.5,367.9 L1146.5,367.6 L1148.5,367.4 L1150.4,367.1 L1152.4,366.8 L1154.4,366.5 L1156.4,366.2 L1158.4,365.9 L1160.3,365.6 L1162.3,365.3 L1164.3,365.0 L1166.3,364.7 L1168.3,364.4 L1170.3,364.1 L1172.2,363.8 L1174.2,363.5 L1176.2,363.2 L1178.2,362.9 L1180.2,362.6 L1182.1,362.4 L1184.1,362.1 L1186.1,361.8 L1188.1,361.5 L1190.1,361.2 L1192.0,360.9 L1194.0,360.6 L1196.0,360.3 L1198.0,360.0 L1200.0,359.7 L1201.9,359.4 L1203.9,359.1 L1205.9,358.8 L1207.9,358.5 L1209.9,358.2 L1211.8,357.9 L1213.8,357.6 L1215.8,357.4 L1217.8,357.1 L1219.8,356.8 L1221.8,356.5 L1223.7,356.2 L1225.7,355.9 L1227.7,355.6 L1229.7,355.3 L1231.7,355.0 L1233.6,354.7 L1235.6,354.4 L1237.6,354.1 L1239.6,353.8 L1241.6,353.5 L1243.5,353.3 L1245.5,353.0 L1247.5,352.7 L1249.5,352.4 L1251.5,352.1 L1253.5,351.8 L1255.4,351.6 L1257.4,351.3 L1259.4,351.0 L1261.4,350.8 L1263.4,350.5 L1265.4,350.2 L1267.3,349.9 L1269.3,349.7 L1271.3,349.4 L1273.3,349.1 L1275.3,348.9 L1277.3,348.6 L1279.2,348.3 L1281.2,348.1 L1283.2,347.8 L1285.2,347.5 L1287.2,347.3 L1289.2,347.0 L1291.2,346.7 L1293.1,346.4 L1295.1,346.2 L1297.1,345.9 L1299.1,345.6 L1301.1,345.4 L1303.1,345.1 L1305.0,344.8 L1307.0,344.6 L1309.0,344.3 L1311.0,344.0 L1313.0,343.8 L1315.0,343.5 L1316.9,343.2 L1318.9,343.0 L1320.9,342.7 L1322.9,342.4 L1324.9,342.1 L1326.9,341.9 L1328.9,341.6 L1330.8,341.3 L1332.8,341.1 L1334.8,340.8 L1336.8,340.5 L1338.8,340.2 L1340.8,340.0 L1342.7,339.7 L1344.7,339.4 L1346.7,339.2 L1348.7,338.9 L1350.7,338.6 L1352.7,338.3 L1354.6,338.1 L1356.6,337.8 L1358.6,337.5 L1360.6,337.2 L1362.6,337.0 L1364.6,336.7 L1366.5,336.4 L1368.5,336.2 L1370.5,335.9 L1372.5,335.6 L1374.5,335.4 L1376.5,335.1 L1378.5,334.8 L1380.4,334.6 L1382.4,334.3 L1384.4,334.1 L1386.4,333.8 L1388.4,333.6 L1390.4,333.4 L1392.4,333.1 L1394.4,332.9 L1396.3,332.7 L1398.3,332.5 L1400.3,332.3 L1402.3,332.1 L1404.3,331.9 L1406.3,331.7 L1408.3,331.5 L1410.3,331.3 L1412.3,331.1 L1414.3,330.9 L1416.3,330.7 L1418.3,330.5 L1420.3,330.3 L1422.3,330.1 L1424.2,329.9 L1426.2,329.7 L1428.2,329.5 L1430.2,329.3 L1432.2,329.1 L1434.2,329.0 L1436.2,328.8 L1438.2,328.6 L1440.2,328.4 L1442.2,328.2 L1444.2,328.0 L1446.2,327.8 L1448.2,327.6 L1450.1,327.4 L1452.1,327.2 L1454.1,327.0 L1456.1,326.8 L1458.1,326.5 L1460.1,326.3 L1462.1,326.1 L1464.1,325.9 L1466.1,325.7 L1468.1,325.5 L1470.1,325.3 L1472.1,325.1 L1474.1,324.9 L1476.0,324.7 L1478.0,324.5 L1480.0,324.3 L1482.0,324.1 L1484.0,323.9 L1486.0,323.6 L1488.0,323.4 L1490.0,323.2 L1492.0,323.0 L1494.0,322.8 L1496.0,322.6 L1498.0,322.4 L1499.9,322.2 L1501.9,322.0 L1503.9,321.8 L1505.9,321.7 L1507.9,321.5 L1509.9,321.3 L1511.9,321.2 L1513.9,321.1 L1515.9,320.9 L1517.9,320.8 L1519.9,320.7 L1521.9,320.6 L1523.9,320.5 L1525.9,320.5 L1527.9,320.4 L1529.9,320.3 L1531.9,320.2 L1533.9,320.1 L1535.9,320.1 L1537.9,320.0 L1539.9,319.9 L1541.9,319.8 L1543.9,319.7 L1545.9,319.7 L1547.9,319.6 L1549.9,319.5 L1551.9,319.4 L1553.9,319.4 L1555.9,319.3 L1557.9,319.2 L1559.9,319.1 L1561.9,319.1 L1563.9,319.0 L1565.9,318.9 L1567.9,318.9 L1569.9,318.8 L1571.9,318.7 L1573.9,318.7 L1575.9,318.6 L1577.9,318.6 L1579.9,318.6 L1581.9,318.5 L1583.9,318.5 L1585.9,318.5 L1587.9,318.5 L1589.9,318.4 L1591.9,318.4 L1593.9,318.4 L1596.0,318.4 L1598.0,318.3 L1600.0,318.3 L1602.0,318.3 L1604.0,318.3 L1606.0,318.2 L1608.0,318.2 L1610.0,318.2 L1612.0,318.2 L1614.0,318.2 L1616.0,318.1 L1618.0,318.1 L1620.0,318.1 L1622.0,318.1 L1624.0,318.1 L1626.0,318.0 L1628.0,318.0 L1630.0,318.0 L1632.0,318.0 L1634.0,317.9 L1636.0,317.9 L1638.0,317.9" stroke="#000" stroke-width="7.2" stroke-linecap="round" stroke-dasharray="0.1 15.5" stroke-dashoffset="12.23"/>
<path d="M289.5,1663.0 L289.7,1661.0 L289.9,1659.0 L290.1,1657.0 L290.2,1655.0 L290.4,1653.0 L290.6,1651.0 L290.8,1649.0 L291.0,1647.0 L291.2,1645.1 L291.3,1643.1 L291.5,1641.1 L291.7,1639.1 L291.9,1637.1 L292.1,1635.1 L292.3,1633.1 L292.4,1631.1 L292.6,1629.1 L292.8,1627.1 L293.0,1625.1 L293.2,1623.1 L293.4,1621.1 L293.6,1619.1 L293.7,1617.1 L293.9,1615.1 L294.1,1613.2 L294.3,1611.2 L294.5,1609.2 L294.7,1607.2 L294.8,1605.2 L295.0,1603.2 L295.2,1601.2 L295.4,1599.2 L295.6,1597.2 L295.8,1595.2 L296.0,1593.2 L296.1,1591.2 L296.3,1589.2 L296.5,1587.2 L296.7,1585.2 L296.9,1583.2 L297.1,1581.3 L297.2,1579.3 L297.4,1577.3 L297.6,1575.3 L297.8,1573.3 L298.0,1571.3 L298.2,1569.3 L298.3,1567.3 L298.5,1565.3 L298.7,1563.3 L298.9,1561.3 L299.1,1559.3 L299.3,1557.3 L299.5,1555.3 L299.6,1553.3 L299.8,1551.3 L300.0,1549.4 L300.2,1547.4 L300.4,1545.4 L300.6,1543.4 L300.7,1541.4 L300.9,1539.4 L301.1,1537.4 L301.3,1535.4 L301.5,1533.4 L301.7,1531.4 L301.8,1529.4 L302.0,1527.4 L302.2,1525.4 L302.4,1523.4 L302.6,1521.4 L302.8,1519.4 L303.0,1517.5 L303.1,1515.5 L303.3,1513.5 L303.5,1511.5 L303.7,1509.5 L303.9,1507.5 L304.1,1505.5 L304.3,1503.5 L304.6,1501.5 L304.8,1499.5 L305.0,1497.5 L305.3,1495.6 L305.5,1493.6 L305.7,1491.6 L306.0,1489.6 L306.2,1487.6 L306.5,1485.6 L306.8,1483.6 L307.0,1481.7 L307.3,1479.7 L307.5,1477.7 L307.8,1475.7 L308.1,1473.7 L308.3,1471.7 L308.6,1469.7 L308.8,1467.8 L309.1,1465.8 L309.4,1463.8 L309.6,1461.8 L309.9,1459.8 L310.1,1457.8 L310.4,1455.8 L310.7,1453.9 L310.9,1451.9 L311.2,1449.9 L311.4,1447.9 L311.7,1445.9 L312.0,1443.9 L312.2,1441.9 L312.5,1440.0 L312.8,1438.0 L313.0,1436.0 L313.3,1434.0 L313.5,1432.0 L313.8,1430.0 L314.1,1428.0 L314.3,1426.1 L314.6,1424.1 L314.8,1422.1 L315.1,1420.1 L315.4,1418.1 L315.6,1416.1 L315.9,1414.2 L316.1,1412.2 L316.4,1410.2 L316.7,1408.2 L316.9,1406.2 L317.2,1404.2 L317.4,1402.2 L317.7,1400.3 L318.0,1398.3 L318.2,1396.3 L318.5,1394.3 L318.7,1392.3 L319.0,1390.3 L319.3,1388.3 L319.5,1386.4 L319.8,1384.4 L320.1,1382.4 L320.3,1380.4 L320.6,1378.4 L320.8,1376.4 L321.1,1374.4 L321.4,1372.5 L321.6,1370.5 L321.9,1368.5 L322.1,1366.5 L322.4,1364.5 L322.7,1362.5 L322.9,1360.6 L323.2,1358.6 L323.4,1356.6 L323.7,1354.6 L324.0,1352.6 L324.2,1350.6 L324.5,1348.6 L324.7,1346.7 L325.0,1344.7 L325.2,1342.7 L325.5,1340.7 L325.8,1338.7 L326.0,1336.7 L326.3,1334.7 L326.5,1332.8 L326.8,1330.8 L327.0,1328.8 L327.3,1326.8 L327.5,1324.8 L327.8,1322.8 L328.0,1320.8 L328.3,1318.8 L328.5,1316.9 L328.7,1314.9 L329.0,1312.9 L329.2,1310.9 L329.5,1308.9 L329.7,1306.9 L330.0,1304.9 L330.2,1302.9 L330.5,1301.0 L330.7,1299.0 L331.0,1297.0 L331.2,1295.0 L331.5,1293.0 L331.7,1291.0 L332.0,1289.0 L332.2,1287.1 L332.4,1285.1 L332.7,1283.1 L332.9,1281.1 L333.2,1279.1 L333.4,1277.1 L333.7,1275.1 L333.9,1273.1 L334.2,1271.2 L334.4,1269.2 L334.7,1267.2 L334.9,1265.2 L335.2,1263.2 L335.4,1261.2 L335.7,1259.2 L335.9,1257.2 L336.2,1255.3 L336.4,1253.3 L336.6,1251.3 L336.9,1249.3 L337.1,1247.3 L337.4,1245.3 L337.6,1243.3 L337.9,1241.4 L338.1,1239.4 L338.4,1237.4 L338.6,1235.4 L338.9,1233.4 L339.1,1231.4 L339.4,1229.4 L339.6,1227.4 L339.9,1225.5 L340.1,1223.5 L340.3,1221.5 L340.6,1219.5 L340.8,1217.5 L341.1,1215.5 L341.3,1213.5 L341.6,1211.5 L341.8,1209.6 L342.1,1207.6 L342.3,1205.6 L342.6,1203.6 L342.8,1201.6 L343.1,1199.6 L343.3,1197.6 L343.6,1195.7 L343.8,1193.7 L344.1,1191.7 L344.3,1189.7 L344.5,1187.7 L344.8,1185.7 L345.0,1183.7 L345.3,1181.7 L345.5,1179.8 L345.8,1177.8 L346.0,1175.8 L346.3,1173.8 L346.5,1171.8 L346.8,1169.8 L347.0,1167.8 L347.3,1165.8 L347.5,1163.9 L347.8,1161.9 L348.0,1159.9 L348.3,1157.9 L348.5,1155.9 L348.8,1153.9 L349.0,1151.9 L349.3,1150.0 L349.5,1148.0 L349.7,1146.0 L350.0,1144.0 L350.2,1142.0 L350.5,1140.0 L350.7,1138.0 L351.0,1136.0 L351.2,1134.1 L351.5,1132.1 L351.7,1130.1 L352.0,1128.1 L352.2,1126.1 L352.5,1124.1 L352.7,1122.1 L353.0,1120.2 L353.2,1118.2 L353.5,1116.2 L353.7,1114.2 L354.0,1112.2 L354.2,1110.2 L354.5,1108.2 L354.7,1106.2 L355.0,1104.3 L355.2,1102.3 L355.5,1100.3 L355.7,1098.3 L355.9,1096.3 L356.2,1094.3 L356.4,1092.3 L356.7,1090.3 L356.9,1088.4 L357.2,1086.4 L357.4,1084.4 L357.7,1082.4 L357.9,1080.4 L358.2,1078.4 L358.4,1076.4 L358.7,1074.5 L358.9,1072.5 L359.2,1070.5 L359.4,1068.5 L359.7,1066.5 L359.9,1064.5 L360.2,1062.5 L360.4,1060.5 L360.7,1058.6 L360.9,1056.6 L361.2,1054.6 L361.4,1052.6 L361.7,1050.6 L361.9,1048.6 L362.1,1046.6 L362.4,1044.7 L362.6,1042.7 L362.9,1040.7 L363.1,1038.7 L363.4,1036.7 L363.6,1034.7 L363.9,1032.7 L364.1,1030.7 L364.4,1028.8 L364.6,1026.8 L364.9,1024.8 L365.1,1022.8 L365.4,1020.8 L365.6,1018.8 L365.8,1016.8 L366.1,1014.8 L366.3,1012.9 L366.5,1010.9 L366.8,1008.9 L367.0,1006.9 L367.2,1004.9 L367.5,1002.9 L367.7,1000.9 L367.9,998.9 L368.2,996.9 L368.4,995.0 L368.6,993.0 L368.9,991.0 L369.1,989.0 L369.4,987.0 L369.7,985.0 L369.9,983.0 L370.2,981.1 L370.5,979.1 L370.8,977.1 L371.1,975.1 L371.4,973.1 L371.7,971.2 L372.0,969.2 L372.3,967.2 L372.6,965.2 L372.9,963.3 L373.3,961.3 L373.6,959.3 L373.9,957.3 L374.3,955.4 L374.6,953.4 L375.0,951.4 L375.3,949.4 L375.7,947.5 L376.0,945.5 L376.4,943.5 L376.8,941.6 L377.1,939.6 L377.5,937.6 L377.9,935.7 L378.4,933.7 L378.8,931.8 L379.2,929.8 L379.7,927.9 L380.2,925.9 L380.7,924.0 L381.3,922.1 L381.9,920.2 L382.5,918.3 L383.1,916.4 L383.8,914.5 L384.4,912.6 L385.2,910.8 L385.9,908.9 L386.7,907.1 L387.5,905.2 L388.3,903.4 L389.2,901.6 L390.0,899.8 L391.0,898.0 L391.9,896.3 L392.8,894.5 L393.8,892.8 L394.8,891.0 L395.8,889.3 L396.8,887.5 L397.8,885.8 L398.8,884.1 L399.8,882.4 L400.8,880.6 L401.9,878.9 L402.9,877.2 L403.9,875.5 L404.9,873.7 L405.9,872.0 L407.0,870.3 L408.0,868.6 L409.0,866.9 L410.0,865.1 L411.1,863.4 L412.1,861.7 L413.1,860.0 L414.2,858.3 L415.2,856.6 L416.2,854.9 L417.3,853.1 L418.3,851.4 L419.4,849.7 L420.4,848.0 L421.5,846.3 L422.5,844.6 L423.5,842.9 L424.6,841.2 L425.6,839.5 L426.7,837.8 L427.7,836.1 L428.8,834.4 L429.8,832.7 L430.9,831.0 L431.9,829.2 L433.0,827.5 L434.0,825.8 L435.1,824.1 L436.1,822.4 L437.2,820.7 L438.2,819.0 L439.3,817.3 L440.4,815.6 L441.4,813.9 L442.5,812.2 L443.6,810.6 L444.6,808.9 L445.7,807.2 L446.8,805.5 L447.9,803.8 L449.0,802.1 L450.1,800.4 L451.2,798.8 L452.3,797.1 L453.4,795.4 L454.5,793.8 L455.6,792.1 L456.8,790.5 L457.9,788.9 L459.1,787.2 L460.3,785.6 L461.4,784.0 L462.6,782.4 L463.8,780.8 L465.1,779.2 L466.3,777.6 L467.5,776.1 L468.8,774.5 L470.1,773.0 L471.3,771.4 L472.6,769.9 L474.0,768.4 L475.3,766.9 L476.6,765.4 L478.0,763.9 L479.3,762.5 L480.7,761.0 L482.1,759.5 L483.4,758.1 L484.8,756.6 L486.2,755.2 L487.6,753.8 L489.0,752.3 L490.4,750.9 L491.8,749.4 L493.2,748.0 L494.6,746.6 L496.0,745.1 L497.4,743.7 L498.8,742.3 L500.2,740.9 L501.6,739.4 L503.0,738.0 L504.4,736.5 L505.8,735.1 L507.1,733.7 L508.5,732.2 L509.9,730.7 L511.3,729.3 L512.6,727.8 L514.0,726.4 L515.4,724.9 L516.7,723.4 L518.1,721.9 L519.4,720.5 L520.8,719.0 L522.1,717.5 L523.5,716.0 L524.8,714.6 L526.2,713.1 L527.6,711.6 L528.9,710.1 L530.3,708.7 L531.6,707.2 L533.0,705.7 L534.3,704.2 L535.7,702.8 L537.0,701.3 L538.4,699.8 L539.7,698.3 L541.1,696.8 L542.4,695.3 L543.7,693.9 L545.1,692.4 L546.4,690.9 L547.7,689.4 L549.1,687.9 L550.4,686.4 L551.7,684.9 L553.1,683.4 L554.4,681.9 L555.7,680.4 L557.1,678.9 L558.4,677.4 L559.7,675.9 L561.0,674.4 L562.3,672.9 L563.7,671.4 L565.0,669.9 L566.3,668.4 L567.6,666.9 L569.0,665.4 L570.3,663.9 L571.6,662.4 L572.9,660.9 L574.2,659.4 L575.6,657.9 L576.9,656.4 L578.2,654.9 L579.5,653.4 L580.9,651.9 L582.2,650.4 L583.5,648.9 L584.9,647.4 L586.2,645.9 L587.6,644.4 L588.9,642.9 L590.3,641.4 L591.6,640.0 L593.0,638.5 L594.3,637.0 L595.7,635.6 L597.0,634.1 L598.4,632.6 L599.8,631.2 L601.2,629.7 L602.5,628.3 L603.9,626.8 L605.3,625.4 L606.7,623.9 L608.1,622.5 L609.5,621.1 L610.9,619.6 L612.3,618.2 L613.7,616.7 L615.1,615.3 L616.5,613.9 L617.9,612.4 L619.3,611.0 L620.6,609.6 L622.0,608.1 L623.4,606.7 L624.8,605.3 L626.2,603.8 L627.6,602.4 L629.0,601.0 L630.4,599.5 L631.8,598.1 L633.2,596.7 L634.6,595.2 L636.0,593.8 L637.4,592.4 L638.8,590.9 L640.2,589.5 L641.7,588.1 L643.1,586.7 L644.5,585.3 L645.9,583.9 L647.4,582.5 L648.8,581.1 L650.2,579.7 L651.7,578.3 L653.1,576.9 L654.5,575.5 L656.0,574.1 L657.4,572.7 L658.9,571.3 L660.3,570.0 L661.8,568.6 L663.2,567.2 L664.7,565.8 L666.1,564.4 L667.6,563.0 L669.0,561.7 L670.5,560.3 L671.9,558.9 L673.4,557.5 L674.8,556.1 L676.2,554.8 L677.7,553.4 L679.1,552.0 L680.6,550.6 L682.0,549.2 L683.5,547.9 L684.9,546.5 L686.4,545.1 L687.8,543.7 L689.3,542.3 L690.7,540.9 L692.2,539.6 L693.6,538.2 L695.1,536.8 L696.6,535.4 L698.0,534.0 L699.5,532.7 L700.9,531.3 L702.4,529.9 L703.8,528.5 L705.3,527.2 L706.7,525.8 L708.2,524.4 L709.6,523.0 L711.1,521.7 L712.5,520.3 L714.0,518.9 L715.5,517.5 L716.9,516.2 L718.4,514.8 L719.8,513.4 L721.3,512.1 L722.8,510.7 L724.2,509.3 L725.7,508.0 L727.2,506.6 L728.7,505.3 L730.1,503.9 L731.6,502.6 L733.1,501.2 L734.6,499.9 L736.1,498.5 L737.5,497.2 L739.0,495.8 L740.5,494.5 L742.0,493.2 L743.5,491.8 L745.0,490.5 L746.5,489.1 L747.9,487.8 L749.4,486.5 L750.9,485.1 L752.4,483.8 L753.9,482.5 L755.4,481.2 L757.0,479.9 L758.5,478.5 L760.0,477.2 L761.5,475.9 L763.0,474.7 L764.6,473.4 L766.1,472.1 L767.6,470.8 L769.2,469.5 L770.7,468.2 L772.3,467.0 L773.8,465.7 L775.4,464.4 L776.9,463.1 L778.4,461.9 L780.0,460.6 L781.5,459.3 L783.1,458.1 L784.7,456.8 L786.2,455.6 L787.8,454.3 L789.4,453.1 L790.9,451.8 L792.5,450.6 L794.1,449.4 L795.7,448.2 L797.3,447.0 L799.0,445.9 L800.6,444.7 L802.2,443.6 L803.9,442.4 L805.5,441.3 L807.2,440.2 L808.9,439.1 L810.6,438.1 L812.3,437.1 L814.0,436.1 L815.8,435.1 L817.5,434.1 L819.3,433.2 L821.1,432.3 L822.9,431.4 L824.7,430.5 L826.5,429.7 L828.3,428.8 L830.1,428.0 L831.9,427.1 L833.8,426.3 L835.6,425.5 L837.4,424.8 L839.3,424.0 L841.1,423.2 L843.0,422.5 L844.9,421.8 L846.7,421.0 L848.6,420.3 L850.5,419.6 L852.4,418.9 L854.2,418.3 L856.1,417.6 L858.0,416.9 L859.9,416.3 L861.8,415.6 L863.7,414.9 L865.6,414.3 L867.5,413.6 L869.4,413.0 L871.2,412.3 L873.1,411.7 L875.0,411.0 L876.9,410.4 L878.8,409.8 L880.8,409.2 L882.7,408.6 L884.6,408.0 L886.5,407.5 L888.4,406.9 L890.3,406.4 L892.3,405.8 L894.2,405.3 L896.1,404.7 L898.1,404.2 L900.0,403.6 L901.9,403.1 L903.8,402.6 L905.8,402.0 L907.7,401.5 L909.6,401.0 L911.6,400.4 L913.5,399.9 L915.4,399.3 L917.3,398.8 L919.3,398.2 L921.2,397.7 L923.1,397.1 L925.0,396.6 L927.0,396.0 L928.9,395.4 L930.8,394.9 L932.7,394.3 L934.6,393.8 L936.6,393.2 L938.5,392.7 L940.4,392.1 L942.4,391.6 L944.3,391.1 L946.2,390.6 L948.2,390.1 L950.1,389.6 L952.0,389.1 L954.0,388.7 L955.9,388.2 L957.9,387.8 L959.9,387.4 L961.8,387.0 L963.8,386.6 L965.7,386.1 L967.7,385.7 L969.7,385.3 L971.6,384.9 L973.6,384.5 L975.5,384.1 L977.5,383.7 L979.5,383.3 L981.4,382.9 L983.4,382.5 L985.3,382.1 L987.3,381.7 L989.3,381.3 L991.2,380.9 L993.2,380.5 L995.1,380.1 L997.1,379.7 L999.1,379.3 L1001.0,378.9 L1003.0,378.5 L1005.0,378.1 L1006.9,377.7 L1008.9,377.3 L1010.8,376.8 L1012.8,376.4 L1014.8,376.0 L1016.7,375.6 L1018.7,375.2 L1020.6,374.8 L1022.6,374.4 L1024.6,374.0 L1026.5,373.6 L1028.5,373.2 L1030.4,372.8 L1032.4,372.4 L1034.4,372.0 L1036.3,371.6 L1038.3,371.2 L1040.2,370.8 L1042.2,370.4 L1044.2,370.0 L1046.1,369.5 L1048.1,369.1 L1050.1,368.7 L1052.0,368.3 L1054.0,367.9 L1055.9,367.5 L1057.9,367.1 L1059.9,366.7 L1061.8,366.3 L1063.8,365.9 L1065.7,365.5 L1067.7,365.1 L1069.7,364.7 L1071.6,364.3 L1073.6,363.9 L1075.5,363.5 L1077.5,363.1 L1079.5,362.6 L1081.4,362.2 L1083.4,361.8 L1085.3,361.4 L1087.3,361.0 L1089.3,360.6 L1091.2,360.2 L1093.2,359.8 L1095.2,359.4 L1097.1,359.0 L1099.1,358.7 L1101.0,358.3 L1103.0,357.9 L1105.0,357.5 L1106.9,357.1 L1108.9,356.8 L1110.9,356.4 L1112.8,356.0 L1114.8,355.7 L1116.8,355.3 L1118.8,354.9 L1120.7,354.6 L1122.7,354.2 L1124.7,353.8 L1126.6,353.5 L1128.6,353.1 L1130.6,352.7 L1132.5,352.4 L1134.5,352.0 L1136.5,351.6 L1138.4,351.3 L1140.4,350.9 L1142.4,350.5 L1144.3,350.2 L1146.3,349.8 L1148.3,349.4 L1150.3,349.1 L1152.2,348.7 L1154.2,348.3 L1156.2,348.0 L1158.1,347.6 L1160.1,347.2 L1162.1,346.9 L1164.0,346.5 L1166.0,346.1 L1168.0,345.8 L1169.9,345.4 L1171.9,345.0 L1173.9,344.7 L1175.8,344.3 L1177.8,343.9 L1179.8,343.6 L1181.7,343.2 L1183.7,342.8 L1185.7,342.5 L1187.7,342.1 L1189.6,341.8 L1191.6,341.4 L1193.6,341.0 L1195.5,340.7 L1197.5,340.3 L1199.5,339.9 L1201.4,339.6 L1203.4,339.2 L1205.4,338.9 L1207.3,338.5 L1209.3,338.2 L1211.3,337.8 L1213.3,337.5 L1215.2,337.2 L1217.2,336.9 L1219.2,336.6 L1221.2,336.3 L1223.2,336.0 L1225.2,335.8 L1227.1,335.5 L1229.1,335.2 L1231.1,335.0 L1233.1,334.7 L1235.1,334.4 L1237.1,334.2 L1239.0,333.9 L1241.0,333.7 L1243.0,333.4 L1245.0,333.1 L1247.0,332.9 L1249.0,332.6 L1251.0,332.4 L1252.9,332.1 L1254.9,331.8 L1256.9,331.6 L1258.9,331.3 L1260.9,331.1 L1262.9,330.8 L1264.9,330.5 L1266.8,330.3 L1268.8,330.0 L1270.8,329.7 L1272.8,329.5 L1274.8,329.2 L1276.8,328.9 L1278.7,328.7 L1280.7,328.4 L1282.7,328.1 L1284.7,327.8 L1286.7,327.5 L1288.7,327.3 L1290.6,327.0 L1292.6,326.7 L1294.6,326.4 L1296.6,326.1 L1298.6,325.8 L1300.5,325.5 L1302.5,325.3 L1304.5,325.0 L1306.5,324.7 L1308.5,324.4 L1310.5,324.1 L1312.4,323.8 L1314.4,323.5 L1316.4,323.2 L1318.4,322.9 L1320.4,322.7 L1322.3,322.4 L1324.3,322.1 L1326.3,321.8 L1328.3,321.5 L1330.3,321.2 L1332.2,320.9 L1334.2,320.6 L1336.2,320.4 L1338.2,320.1 L1340.2,319.8 L1342.2,319.5 L1344.1,319.2 L1346.1,318.9 L1348.1,318.7 L1350.1,318.4 L1352.1,318.1 L1354.1,317.8 L1356.0,317.5 L1358.0,317.3 L1360.0,317.0 L1362.0,316.7 L1364.0,316.4 L1365.9,316.2 L1367.9,315.9 L1369.9,315.6 L1371.9,315.3 L1373.9,315.1 L1375.9,314.8 L1377.9,314.5 L1379.8,314.3 L1381.8,314.0 L1383.8,313.7 L1385.8,313.4 L1387.8,313.2 L1389.8,312.9 L1391.7,312.6 L1393.7,312.3 L1395.7,312.1 L1397.7,311.8 L1399.7,311.5 L1401.7,311.2 L1403.6,311.0 L1405.6,310.7 L1407.6,310.4 L1409.6,310.2 L1411.6,309.9 L1413.6,309.6 L1415.5,309.4 L1417.5,309.1 L1419.5,308.9 L1421.5,308.6 L1423.5,308.4 L1425.5,308.1 L1427.5,307.9 L1429.4,307.6 L1431.4,307.4 L1433.4,307.1 L1435.4,306.9 L1437.4,306.6 L1439.4,306.4 L1441.4,306.1 L1443.4,305.9 L1445.3,305.6 L1447.3,305.4 L1449.3,305.1 L1451.3,304.9 L1453.3,304.6 L1455.3,304.4 L1457.3,304.1 L1459.2,303.9 L1461.2,303.6 L1463.2,303.4 L1465.2,303.1 L1467.2,302.9 L1469.2,302.6 L1471.2,302.4 L1473.2,302.2 L1475.1,301.9 L1477.1,301.7 L1479.1,301.5 L1481.1,301.3 L1483.1,301.1 L1485.1,300.9 L1487.1,300.7 L1489.1,300.5 L1491.1,300.4 L1493.1,300.2 L1495.1,300.0 L1497.1,299.9 L1499.1,299.7 L1501.1,299.5 L1503.1,299.4 L1505.1,299.2 L1507.0,299.1 L1509.0,298.9 L1511.0,298.8 L1513.0,298.6 L1515.0,298.4 L1517.0,298.3 L1519.0,298.1 L1521.0,298.0 L1523.0,297.8 L1525.0,297.7 L1527.0,297.5 L1529.0,297.3 L1531.0,297.2 L1533.0,297.0 L1535.0,296.9 L1537.0,296.7 L1539.0,296.6 L1541.0,296.4 L1543.0,296.3 L1545.0,296.1 L1547.0,296.0 L1549.0,295.9 L1551.0,295.8 L1553.0,295.6 L1555.0,295.5 L1557.0,295.5 L1559.0,295.4 L1561.0,295.3 L1563.0,295.2 L1565.0,295.1 L1567.0,295.1 L1569.0,295.0 L1571.0,294.9 L1573.0,294.8 L1575.0,294.8 L1577.0,294.7 L1579.0,294.6 L1581.0,294.6 L1583.0,294.5 L1585.0,294.4 L1587.0,294.4 L1589.0,294.3 L1591.0,294.2 L1593.0,294.2 L1595.0,294.1 L1597.0,294.0 L1599.0,293.9 L1601.0,293.9 L1603.0,293.8 L1605.0,293.7 L1607.0,293.7 L1609.0,293.6 L1611.0,293.5 L1613.0,293.4 L1615.0,293.4 L1617.0,293.3 L1619.0,293.2 L1621.0,293.1 L1623.0,293.1 L1625.0,293.0 L1627.0,292.9 L1629.0,292.8 L1631.0,292.7 L1633.0,292.6 L1635.0,292.5 L1637.0,292.4 L1639.0,292.3 L1641.0,292.2 L1643.0,292.2 L1645.0,292.1 L1647.0,292.0 L1649.0,291.9 L1651.0,291.8 L1653.0,291.7 L1655.0,291.6 L1657.0,291.5" stroke="#f01414" stroke-width="5.3" stroke-dasharray="32 14 7 15" stroke-dashoffset="34.73"/>
<path d="M289.5,1663.0 L289.7,1661.0 L289.9,1659.0 L290.0,1657.0 L290.2,1655.0 L290.4,1653.0 L290.6,1651.0 L290.7,1649.0 L290.9,1647.0 L291.1,1645.0 L291.3,1643.0 L291.4,1641.1 L291.6,1639.1 L291.8,1637.1 L292.0,1635.1 L292.1,1633.1 L292.3,1631.1 L292.5,1629.1 L292.7,1627.1 L292.8,1625.1 L293.0,1623.1 L293.2,1621.1 L293.4,1619.1 L293.6,1617.1 L293.7,1615.1 L293.9,1613.1 L294.1,1611.1 L294.3,1609.1 L294.4,1607.1 L294.6,1605.1 L294.8,1603.1 L295.0,1601.2 L295.1,1599.2 L295.3,1597.2 L295.5,1595.2 L295.7,1593.2 L295.8,1591.2 L296.0,1589.2 L296.2,1587.2 L296.4,1585.2 L296.5,1583.2 L296.7,1581.2 L296.9,1579.2 L297.1,1577.2 L297.2,1575.2 L297.4,1573.2 L297.6,1571.2 L297.8,1569.2 L298.0,1567.2 L298.1,1565.2 L298.3,1563.2 L298.5,1561.2 L298.7,1559.3 L298.8,1557.3 L299.0,1555.3 L299.2,1553.3 L299.4,1551.3 L299.5,1549.3 L299.7,1547.3 L299.9,1545.3 L300.1,1543.3 L300.2,1541.3 L300.4,1539.3 L300.6,1537.3 L300.8,1535.3 L300.9,1533.3 L301.1,1531.3 L301.3,1529.3 L301.5,1527.3 L301.7,1525.3 L301.8,1523.3 L302.0,1521.3 L302.2,1519.4 L302.4,1517.4 L302.5,1515.4 L302.7,1513.4 L302.9,1511.4 L303.1,1509.4 L303.3,1507.4 L303.5,1505.4 L303.7,1503.4 L303.9,1501.4 L304.1,1499.4 L304.4,1497.4 L304.6,1495.4 L304.8,1493.5 L305.1,1491.5 L305.3,1489.5 L305.6,1487.5 L305.8,1485.5 L306.1,1483.5 L306.4,1481.5 L306.6,1479.5 L306.9,1477.6 L307.1,1475.6 L307.4,1473.6 L307.6,1471.6 L307.9,1469.6 L308.2,1467.6 L308.4,1465.6 L308.7,1463.7 L308.9,1461.7 L309.2,1459.7 L309.5,1457.7 L309.7,1455.7 L310.0,1453.7 L310.2,1451.7 L310.5,1449.8 L310.8,1447.8 L311.0,1445.8 L311.3,1443.8 L311.5,1441.8 L311.8,1439.8 L312.1,1437.8 L312.3,1435.9 L312.6,1433.9 L312.8,1431.9 L313.1,1429.9 L313.4,1427.9 L313.6,1425.9 L313.9,1423.9 L314.1,1422.0 L314.4,1420.0 L314.7,1418.0 L314.9,1416.0 L315.2,1414.0 L315.4,1412.0 L315.7,1410.0 L316.0,1408.1 L316.2,1406.1 L316.5,1404.1 L316.7,1402.1 L317.0,1400.1 L317.3,1398.1 L317.5,1396.1 L317.8,1394.2 L318.0,1392.2 L318.3,1390.2 L318.6,1388.2 L318.8,1386.2 L319.1,1384.2 L319.3,1382.2 L319.6,1380.3 L319.9,1378.3 L320.1,1376.3 L320.4,1374.3 L320.6,1372.3 L320.9,1370.3 L321.2,1368.3 L321.4,1366.3 L321.7,1364.4 L321.9,1362.4 L322.2,1360.4 L322.5,1358.4 L322.7,1356.4 L323.0,1354.4 L323.2,1352.4 L323.5,1350.5 L323.8,1348.5 L324.0,1346.5 L324.3,1344.5 L324.5,1342.5 L324.8,1340.5 L325.0,1338.5 L325.3,1336.6 L325.5,1334.6 L325.8,1332.6 L326.0,1330.6 L326.3,1328.6 L326.5,1326.6 L326.8,1324.6 L327.0,1322.6 L327.3,1320.7 L327.5,1318.7 L327.8,1316.7 L328.0,1314.7 L328.3,1312.7 L328.5,1310.7 L328.8,1308.7 L329.0,1306.7 L329.3,1304.8 L329.5,1302.8 L329.7,1300.8 L330.0,1298.8 L330.2,1296.8 L330.5,1294.8 L330.7,1292.8 L331.0,1290.8 L331.2,1288.9 L331.5,1286.9 L331.7,1284.9 L332.0,1282.9 L332.2,1280.9 L332.5,1278.9 L332.7,1276.9 L333.0,1274.9 L333.2,1273.0 L333.5,1271.0 L333.7,1269.0 L333.9,1267.0 L334.2,1265.0 L334.4,1263.0 L334.7,1261.0 L334.9,1259.0 L335.2,1257.1 L335.4,1255.1 L335.7,1253.1 L335.9,1251.1 L336.2,1249.1 L336.4,1247.1 L336.7,1245.1 L336.9,1243.1 L337.2,1241.2 L337.4,1239.2 L337.6,1237.2 L337.9,1235.2 L338.1,1233.2 L338.4,1231.2 L338.6,1229.2 L338.9,1227.2 L339.1,1225.3 L339.4,1223.3 L339.6,1221.3 L339.9,1219.3 L340.1,1217.3 L340.4,1215.3 L340.6,1213.3 L340.9,1211.3 L341.1,1209.4 L341.4,1207.4 L341.6,1205.4 L341.8,1203.4 L342.1,1201.4 L342.3,1199.4 L342.6,1197.4 L342.8,1195.4 L343.1,1193.5 L343.3,1191.5 L343.6,1189.5 L343.8,1187.5 L344.1,1185.5 L344.3,1183.5 L344.6,1181.5 L344.8,1179.5 L345.1,1177.6 L345.3,1175.6 L345.6,1173.6 L345.8,1171.6 L346.1,1169.6 L346.3,1167.6 L346.6,1165.6 L346.8,1163.6 L347.0,1161.7 L347.3,1159.7 L347.5,1157.7 L347.8,1155.7 L348.0,1153.7 L348.3,1151.7 L348.5,1149.7 L348.8,1147.7 L349.0,1145.8 L349.3,1143.8 L349.5,1141.8 L349.8,1139.8 L350.0,1137.8 L350.3,1135.8 L350.5,1133.8 L350.8,1131.8 L351.0,1129.9 L351.3,1127.9 L351.5,1125.9 L351.8,1123.9 L352.0,1121.9 L352.3,1119.9 L352.5,1117.9 L352.8,1115.9 L353.0,1114.0 L353.3,1112.0 L353.5,1110.0 L353.8,1108.0 L354.0,1106.0 L354.3,1104.0 L354.5,1102.0 L354.8,1100.0 L355.0,1098.1 L355.3,1096.1 L355.5,1094.1 L355.8,1092.1 L356.0,1090.1 L356.3,1088.1 L356.5,1086.1 L356.8,1084.1 L357.0,1082.2 L357.3,1080.2 L357.5,1078.2 L357.8,1076.2 L358.0,1074.2 L358.3,1072.2 L358.5,1070.2 L358.8,1068.2 L359.0,1066.3 L359.3,1064.3 L359.5,1062.3 L359.7,1060.3 L360.0,1058.3 L360.2,1056.3 L360.5,1054.3 L360.7,1052.3 L361.0,1050.4 L361.2,1048.4 L361.5,1046.4 L361.7,1044.4 L362.0,1042.4 L362.2,1040.4 L362.5,1038.4 L362.7,1036.5 L363.0,1034.5 L363.2,1032.5 L363.5,1030.5 L363.7,1028.5 L364.0,1026.5 L364.2,1024.5 L364.5,1022.5 L364.7,1020.5 L364.9,1018.6 L365.2,1016.6 L365.4,1014.6 L365.6,1012.6 L365.9,1010.6 L366.1,1008.6 L366.3,1006.6 L366.6,1004.6 L366.8,1002.6 L367.0,1000.7 L367.2,998.7 L367.5,996.7 L367.7,994.7 L367.9,992.7 L368.2,990.7 L368.4,988.7 L368.7,986.7 L369.0,984.8 L369.2,982.8 L369.5,980.8 L369.8,978.8 L370.1,976.8 L370.4,974.8 L370.7,972.9 L371.0,970.9 L371.3,968.9 L371.6,966.9 L371.9,964.9 L372.2,963.0 L372.6,961.0 L372.9,959.0 L373.2,957.0 L373.6,955.1 L373.9,953.1 L374.3,951.1 L374.6,949.2 L375.0,947.2 L375.3,945.2 L375.7,943.2 L376.1,941.3 L376.4,939.3 L376.8,937.3 L377.2,935.4 L377.6,933.4 L378.1,931.5 L378.5,929.5 L379.0,927.6 L379.5,925.6 L380.0,923.7 L380.5,921.8 L381.1,919.9 L381.7,918.0 L382.4,916.1 L383.0,914.2 L383.7,912.3 L384.4,910.4 L385.2,908.6 L385.9,906.8 L386.7,904.9 L387.6,903.1 L388.4,901.3 L389.3,899.5 L390.2,897.7 L391.1,896.0 L392.1,894.2 L393.0,892.4 L394.0,890.7 L395.0,888.9 L396.0,887.2 L397.0,885.5 L398.0,883.8 L399.0,882.0 L400.0,880.3 L401.1,878.6 L402.1,876.8 L403.1,875.1 L404.1,873.4 L405.1,871.7 L406.1,869.9 L407.2,868.2 L408.2,866.5 L409.2,864.8 L410.2,863.1 L411.3,861.3 L412.3,859.6 L413.3,857.9 L414.4,856.2 L415.4,854.5 L416.4,852.8 L417.5,851.0 L418.5,849.3 L419.6,847.6 L420.6,845.9 L421.6,844.2 L422.7,842.5 L423.7,840.8 L424.8,839.1 L425.8,837.4 L426.9,835.7 L427.9,833.9 L428.9,832.2 L430.0,830.5 L431.0,828.8 L432.1,827.1 L433.1,825.4 L434.2,823.7 L435.2,822.0 L436.3,820.3 L437.3,818.6 L438.4,816.9 L439.5,815.2 L440.5,813.5 L441.6,811.8 L442.7,810.1 L443.7,808.4 L444.8,806.7 L445.9,805.0 L447.0,803.3 L448.1,801.7 L449.2,800.0 L450.3,798.3 L451.4,796.7 L452.5,795.0 L453.6,793.3 L454.7,791.7 L455.9,790.0 L457.0,788.4 L458.2,786.8 L459.4,785.2 L460.6,783.5 L461.8,781.9 L463.0,780.3 L464.2,778.8 L465.4,777.2 L466.7,775.6 L467.9,774.1 L469.2,772.5 L470.5,771.0 L471.8,769.5 L473.1,767.9 L474.4,766.4 L475.8,765.0 L477.1,763.5 L478.5,762.0 L479.8,760.5 L481.2,759.1 L482.6,757.6 L483.9,756.2 L485.3,754.7 L486.7,753.3 L488.1,751.8 L489.5,750.4 L490.9,748.9 L492.3,747.5 L493.7,746.1 L495.1,744.6 L496.5,743.2 L497.9,741.8 L499.3,740.3 L500.7,738.9 L502.0,737.5 L503.4,736.0 L504.8,734.6 L506.2,733.1 L507.6,731.7 L508.9,730.2 L510.3,728.7 L511.6,727.2 L513.0,725.8 L514.3,724.3 L515.7,722.8 L517.0,721.3 L518.3,719.8 L519.7,718.3 L521.0,716.8 L522.3,715.3 L523.7,713.8 L525.0,712.3 L526.3,710.8 L527.6,709.3 L529.0,707.8 L530.3,706.3 L531.6,704.8 L533.0,703.3 L534.3,701.8 L535.6,700.3 L536.9,698.8 L538.2,697.3 L539.6,695.8 L540.9,694.3 L542.2,692.8 L543.5,691.2 L544.8,689.7 L546.1,688.2 L547.4,686.7 L548.7,685.2 L550.0,683.7 L551.3,682.1 L552.6,680.6 L553.9,679.1 L555.2,677.6 L556.5,676.0 L557.8,674.5 L559.1,673.0 L560.4,671.5 L561.7,669.9 L563.0,668.4 L564.3,666.9 L565.6,665.4 L566.9,663.8 L568.2,662.3 L569.5,660.8 L570.8,659.3 L572.1,657.7 L573.4,656.2 L574.7,654.7 L576.0,653.2 L577.3,651.7 L578.6,650.1 L579.9,648.6 L581.3,647.1 L582.6,645.6 L583.9,644.1 L585.2,642.6 L586.5,641.1 L587.9,639.6 L589.2,638.1 L590.5,636.6 L591.9,635.1 L593.2,633.6 L594.6,632.1 L595.9,630.7 L597.3,629.2 L598.6,627.7 L600.0,626.3 L601.4,624.8 L602.8,623.4 L604.1,621.9 L605.5,620.5 L606.9,619.0 L608.3,617.6 L609.7,616.1 L611.1,614.7 L612.5,613.3 L613.9,611.8 L615.3,610.4 L616.7,609.0 L618.1,607.5 L619.5,606.1 L620.9,604.7 L622.3,603.2 L623.7,601.8 L625.1,600.4 L626.5,598.9 L627.9,597.5 L629.3,596.1 L630.7,594.6 L632.1,593.2 L633.5,591.8 L634.9,590.3 L636.3,588.9 L637.7,587.5 L639.1,586.0 L640.5,584.6 L641.9,583.2 L643.3,581.8 L644.7,580.3 L646.1,578.9 L647.5,577.5 L649.0,576.1 L650.4,574.7 L651.8,573.3 L653.2,571.9 L654.7,570.5 L656.1,569.1 L657.5,567.7 L659.0,566.3 L660.4,564.9 L661.8,563.5 L663.3,562.1 L664.7,560.7 L666.1,559.3 L667.6,557.9 L669.0,556.5 L670.4,555.1 L671.9,553.7 L673.3,552.3 L674.7,550.9 L676.2,549.5 L677.6,548.1 L679.1,546.7 L680.5,545.3 L681.9,543.9 L683.4,542.5 L684.8,541.1 L686.2,539.7 L687.7,538.4 L689.1,537.0 L690.6,535.6 L692.0,534.2 L693.4,532.8 L694.9,531.4 L696.3,530.0 L697.8,528.6 L699.2,527.2 L700.6,525.8 L702.1,524.4 L703.5,523.0 L705.0,521.6 L706.4,520.3 L707.8,518.9 L709.3,517.5 L710.7,516.1 L712.2,514.7 L713.6,513.3 L715.1,511.9 L716.5,510.6 L718.0,509.2 L719.4,507.8 L720.9,506.4 L722.4,505.1 L723.8,503.7 L725.3,502.3 L726.8,501.0 L728.2,499.6 L729.7,498.3 L731.2,496.9 L732.6,495.5 L734.1,494.2 L735.6,492.8 L737.1,491.5 L738.6,490.1 L740.0,488.8 L741.5,487.4 L743.0,486.1 L744.5,484.7 L746.0,483.4 L747.5,482.1 L748.9,480.7 L750.4,479.4 L751.9,478.0 L753.4,476.7 L754.9,475.4 L756.4,474.0 L757.9,472.7 L759.4,471.4 L760.9,470.1 L762.4,468.7 L763.9,467.4 L765.4,466.1 L767.0,464.8 L768.5,463.5 L770.0,462.2 L771.5,460.9 L773.0,459.6 L774.6,458.3 L776.1,457.0 L777.6,455.7 L779.1,454.4 L780.7,453.1 L782.2,451.8 L783.7,450.5 L785.3,449.3 L786.8,448.0 L788.4,446.7 L789.9,445.5 L791.5,444.2 L793.1,443.0 L794.6,441.7 L796.2,440.5 L797.8,439.3 L799.4,438.1 L801.0,436.9 L802.6,435.7 L804.2,434.5 L805.9,433.4 L807.5,432.2 L809.2,431.1 L810.9,430.1 L812.6,429.0 L814.3,428.0 L816.0,427.0 L817.8,426.0 L819.5,425.1 L821.3,424.2 L823.1,423.3 L824.9,422.4 L826.7,421.5 L828.5,420.6 L830.3,419.8 L832.1,418.9 L833.9,418.0 L835.7,417.2 L837.5,416.3 L839.3,415.5 L841.1,414.6 L843.0,413.8 L844.8,413.0 L846.6,412.1 L848.4,411.3 L850.3,410.5 L852.1,409.7 L853.9,408.9 L855.8,408.1 L857.6,407.4 L859.5,406.6 L861.4,405.9 L863.2,405.2 L865.1,404.5 L867.0,403.8 L868.9,403.1 L870.7,402.4 L872.6,401.8 L874.5,401.1 L876.4,400.5 L878.3,399.9 L880.2,399.3 L882.2,398.7 L884.1,398.2 L886.0,397.6 L887.9,397.0 L889.8,396.5 L891.8,395.9 L893.7,395.3 L895.6,394.8 L897.5,394.3 L899.5,393.7 L901.4,393.2 L903.3,392.7 L905.3,392.1 L907.2,391.6 L909.1,391.1 L911.1,390.6 L913.0,390.1 L915.0,389.6 L916.9,389.1 L918.8,388.6 L920.8,388.1 L922.7,387.6 L924.7,387.1 L926.6,386.6 L928.5,386.1 L930.5,385.6 L932.4,385.1 L934.3,384.5 L936.3,384.0 L938.2,383.5 L940.1,382.9 L942.0,382.4 L944.0,381.8 L945.9,381.3 L947.8,380.7 L949.7,380.2 L951.7,379.6 L953.6,379.1 L955.5,378.6 L957.5,378.0 L959.4,377.5 L961.3,377.0 L963.3,376.5 L965.2,376.0 L967.2,375.5 L969.1,375.0 L971.0,374.5 L973.0,374.1 L974.9,373.6 L976.9,373.1 L978.8,372.6 L980.8,372.1 L982.7,371.7 L984.7,371.2 L986.6,370.7 L988.6,370.3 L990.5,369.8 L992.5,369.4 L994.4,368.9 L996.4,368.5 L998.3,368.0 L1000.3,367.6 L1002.2,367.2 L1004.2,366.7 L1006.1,366.3 L1008.1,365.8 L1010.0,365.4 L1012.0,364.9 L1013.9,364.5 L1015.9,364.1 L1017.8,363.6 L1019.8,363.2 L1021.8,362.7 L1023.7,362.3 L1025.7,361.9 L1027.6,361.4 L1029.6,361.0 L1031.5,360.5 L1033.5,360.1 L1035.4,359.7 L1037.4,359.2 L1039.3,358.8 L1041.3,358.3 L1043.2,357.9 L1045.2,357.4 L1047.2,357.0 L1049.1,356.6 L1051.1,356.1 L1053.0,355.7 L1055.0,355.2 L1056.9,354.8 L1058.9,354.4 L1060.8,353.9 L1062.8,353.5 L1064.7,353.0 L1066.7,352.6 L1068.6,352.2 L1070.6,351.7 L1072.5,351.3 L1074.5,350.8 L1076.5,350.4 L1078.4,349.9 L1080.4,349.5 L1082.3,349.1 L1084.3,348.6 L1086.2,348.2 L1088.2,347.8 L1090.1,347.3 L1092.1,346.9 L1094.1,346.5 L1096.0,346.1 L1098.0,345.6 L1099.9,345.2 L1101.9,344.8 L1103.9,344.4 L1105.8,344.0 L1107.8,343.7 L1109.7,343.3 L1111.7,342.9 L1113.7,342.5 L1115.6,342.1 L1117.6,341.8 L1119.6,341.4 L1121.6,341.0 L1123.5,340.6 L1125.5,340.3 L1127.5,339.9 L1129.4,339.5 L1131.4,339.2 L1133.4,338.8 L1135.3,338.4 L1137.3,338.0 L1139.3,337.7 L1141.2,337.3 L1143.2,336.9 L1145.2,336.5 L1147.1,336.2 L1149.1,335.8 L1151.1,335.4 L1153.0,335.0 L1155.0,334.7 L1157.0,334.3 L1158.9,333.9 L1160.9,333.6 L1162.9,333.2 L1164.8,332.8 L1166.8,332.4 L1168.8,332.1 L1170.7,331.7 L1172.7,331.3 L1174.7,330.9 L1176.6,330.6 L1178.6,330.2 L1180.6,329.8 L1182.6,329.4 L1184.5,329.1 L1186.5,328.7 L1188.5,328.3 L1190.4,327.9 L1192.4,327.6 L1194.4,327.2 L1196.3,326.8 L1198.3,326.5 L1200.3,326.1 L1202.2,325.7 L1204.2,325.3 L1206.2,325.0 L1208.1,324.6 L1210.1,324.2 L1212.1,323.8 L1214.0,323.5 L1216.0,323.1 L1218.0,322.7 L1219.9,322.4 L1221.9,322.0 L1223.9,321.6 L1225.9,321.3 L1227.8,320.9 L1229.8,320.6 L1231.8,320.2 L1233.7,319.9 L1235.7,319.5 L1237.7,319.2 L1239.7,318.8 L1241.6,318.5 L1243.6,318.2 L1245.6,317.8 L1247.6,317.5 L1249.5,317.2 L1251.5,316.8 L1253.5,316.5 L1255.5,316.2 L1257.4,315.8 L1259.4,315.5 L1261.4,315.2 L1263.4,314.8 L1265.3,314.5 L1267.3,314.1 L1269.3,313.8 L1271.2,313.4 L1273.2,313.1 L1275.2,312.7 L1277.2,312.4 L1279.1,312.1 L1281.1,311.7 L1283.1,311.4 L1285.1,311.0 L1287.0,310.7 L1289.0,310.3 L1291.0,310.0 L1292.9,309.6 L1294.9,309.3 L1296.9,308.9 L1298.9,308.6 L1300.8,308.2 L1302.8,307.9 L1304.8,307.5 L1306.8,307.2 L1308.7,306.8 L1310.7,306.5 L1312.7,306.2 L1314.6,305.8 L1316.6,305.5 L1318.6,305.1 L1320.6,304.8 L1322.5,304.5 L1324.5,304.1 L1326.5,303.8 L1328.5,303.5 L1330.4,303.1 L1332.4,302.8 L1334.4,302.4 L1336.4,302.1 L1338.3,301.8 L1340.3,301.4 L1342.3,301.1 L1344.3,300.8 L1346.2,300.4 L1348.2,300.1 L1350.2,299.7 L1352.2,299.4 L1354.1,299.1 L1356.1,298.7 L1358.1,298.4 L1360.1,298.1 L1362.0,297.7 L1364.0,297.4 L1366.0,297.1 L1367.9,296.7 L1369.9,296.4 L1371.9,296.0 L1373.9,295.7 L1375.8,295.4 L1377.8,295.0 L1379.8,294.7 L1381.8,294.4 L1383.8,294.1 L1385.7,293.7 L1387.7,293.4 L1389.7,293.1 L1391.7,292.8 L1393.6,292.5 L1395.6,292.3 L1397.6,292.0 L1399.6,291.7 L1401.6,291.4 L1403.6,291.2 L1405.6,290.9 L1407.5,290.7 L1409.5,290.4 L1411.5,290.1 L1413.5,289.9 L1415.5,289.6 L1417.5,289.4 L1419.5,289.1 L1421.4,288.9 L1423.4,288.6 L1425.4,288.4 L1427.4,288.1 L1429.4,287.9 L1431.4,287.6 L1433.4,287.4 L1435.4,287.1 L1437.3,286.8 L1439.3,286.6 L1441.3,286.3 L1443.3,286.1 L1445.3,285.8 L1447.3,285.6 L1449.3,285.3 L1451.2,285.1 L1453.2,284.8 L1455.2,284.6 L1457.2,284.3 L1459.2,284.1 L1461.2,283.8 L1463.2,283.6 L1465.2,283.4 L1467.1,283.1 L1469.1,282.9 L1471.1,282.7 L1473.1,282.5 L1475.1,282.3 L1477.1,282.1 L1479.1,282.0 L1481.1,281.8 L1483.1,281.6 L1485.1,281.5 L1487.1,281.3 L1489.1,281.1 L1491.1,281.0 L1493.1,280.8 L1495.1,280.6 L1497.1,280.5 L1499.1,280.3 L1501.1,280.2 L1503.1,280.0 L1505.1,279.9 L1507.1,279.7 L1509.0,279.5 L1511.0,279.4 L1513.0,279.2 L1515.0,279.1 L1517.0,278.9 L1519.0,278.7 L1521.0,278.6 L1523.0,278.4 L1525.0,278.3 L1527.0,278.1 L1529.0,277.9 L1531.0,277.8 L1533.0,277.6 L1535.0,277.5 L1537.0,277.3 L1539.0,277.1 L1541.0,277.0 L1543.0,276.8 L1545.0,276.7 L1547.0,276.5 L1549.0,276.4 L1551.0,276.3 L1553.0,276.1 L1555.0,276.0 L1557.0,275.9 L1559.0,275.8 L1561.0,275.7 L1563.0,275.6 L1565.0,275.5 L1567.0,275.4 L1569.0,275.3 L1571.0,275.2 L1573.0,275.1 L1575.0,275.0 L1577.0,274.9 L1579.0,274.9 L1581.0,274.8 L1583.0,274.7 L1585.0,274.6 L1587.0,274.5 L1589.0,274.4 L1591.0,274.4 L1593.0,274.3 L1595.0,274.2 L1597.0,274.1 L1599.0,274.0 L1601.0,273.9 L1603.0,273.8 L1605.0,273.8 L1607.0,273.7 L1609.0,273.6 L1611.0,273.5" stroke="#000" stroke-width="5.3" stroke-dasharray="25 15 5 15 5 15" stroke-dashoffset="0.12"/>
<path d="M289.5,1663.0 L289.7,1661.0 L289.8,1659.0 L290.0,1657.0 L290.2,1655.0 L290.3,1653.0 L290.5,1651.0 L290.7,1649.0 L290.8,1647.0 L291.0,1645.0 L291.2,1643.0 L291.3,1641.1 L291.5,1639.1 L291.7,1637.1 L291.8,1635.1 L292.0,1633.1 L292.2,1631.1 L292.4,1629.1 L292.5,1627.1 L292.7,1625.1 L292.9,1623.1 L293.0,1621.1 L293.2,1619.1 L293.4,1617.1 L293.5,1615.1 L293.7,1613.1 L293.9,1611.1 L294.0,1609.1 L294.2,1607.1 L294.4,1605.1 L294.5,1603.1 L294.7,1601.2 L294.9,1599.2 L295.0,1597.2 L295.2,1595.2 L295.4,1593.2 L295.5,1591.2 L295.7,1589.2 L295.9,1587.2 L296.0,1585.2 L296.2,1583.2 L296.4,1581.2 L296.5,1579.2 L296.7,1577.2 L296.9,1575.2 L297.1,1573.2 L297.2,1571.2 L297.4,1569.2 L297.6,1567.2 L297.7,1565.2 L297.9,1563.2 L298.1,1561.2 L298.2,1559.3 L298.4,1557.3 L298.6,1555.3 L298.7,1553.3 L298.9,1551.3 L299.1,1549.3 L299.2,1547.3 L299.4,1545.3 L299.6,1543.3 L299.7,1541.3 L299.9,1539.3 L300.1,1537.3 L300.2,1535.3 L300.4,1533.3 L300.6,1531.3 L300.7,1529.3 L300.9,1527.3 L301.1,1525.3 L301.2,1523.3 L301.4,1521.3 L301.6,1519.4 L301.8,1517.4 L301.9,1515.4 L302.1,1513.4 L302.3,1511.4 L302.5,1509.4 L302.7,1507.4 L302.8,1505.4 L303.0,1503.4 L303.3,1501.4 L303.5,1499.4 L303.7,1497.4 L303.9,1495.4 L304.2,1493.5 L304.4,1491.5 L304.7,1489.5 L304.9,1487.5 L305.2,1485.5 L305.4,1483.5 L305.7,1481.5 L305.9,1479.6 L306.2,1477.6 L306.4,1475.6 L306.7,1473.6 L307.0,1471.6 L307.2,1469.6 L307.5,1467.6 L307.7,1465.7 L308.0,1463.7 L308.3,1461.7 L308.5,1459.7 L308.8,1457.7 L309.0,1455.7 L309.3,1453.7 L309.5,1451.8 L309.8,1449.8 L310.1,1447.8 L310.3,1445.8 L310.6,1443.8 L310.8,1441.8 L311.1,1439.8 L311.4,1437.9 L311.6,1435.9 L311.9,1433.9 L312.1,1431.9 L312.4,1429.9 L312.7,1427.9 L312.9,1426.0 L313.2,1424.0 L313.4,1422.0 L313.7,1420.0 L313.9,1418.0 L314.2,1416.0 L314.5,1414.0 L314.7,1412.1 L315.0,1410.1 L315.2,1408.1 L315.5,1406.1 L315.8,1404.1 L316.0,1402.1 L316.3,1400.1 L316.5,1398.2 L316.8,1396.2 L317.1,1394.2 L317.3,1392.2 L317.6,1390.2 L317.8,1388.2 L318.1,1386.2 L318.3,1384.3 L318.6,1382.3 L318.9,1380.3 L319.1,1378.3 L319.4,1376.3 L319.6,1374.3 L319.9,1372.3 L320.2,1370.4 L320.4,1368.4 L320.7,1366.4 L320.9,1364.4 L321.2,1362.4 L321.5,1360.4 L321.7,1358.4 L322.0,1356.5 L322.2,1354.5 L322.5,1352.5 L322.7,1350.5 L323.0,1348.5 L323.3,1346.5 L323.5,1344.6 L323.8,1342.6 L324.0,1340.6 L324.3,1338.6 L324.5,1336.6 L324.8,1334.6 L325.0,1332.6 L325.3,1330.6 L325.5,1328.7 L325.8,1326.7 L326.0,1324.7 L326.3,1322.7 L326.5,1320.7 L326.8,1318.7 L327.0,1316.7 L327.3,1314.8 L327.5,1312.8 L327.8,1310.8 L328.0,1308.8 L328.2,1306.8 L328.5,1304.8 L328.7,1302.8 L329.0,1300.8 L329.2,1298.9 L329.5,1296.9 L329.7,1294.9 L330.0,1292.9 L330.2,1290.9 L330.5,1288.9 L330.7,1286.9 L331.0,1285.0 L331.2,1283.0 L331.5,1281.0 L331.7,1279.0 L332.0,1277.0 L332.2,1275.0 L332.4,1273.0 L332.7,1271.0 L332.9,1269.1 L333.2,1267.1 L333.4,1265.1 L333.7,1263.1 L333.9,1261.1 L334.2,1259.1 L334.4,1257.1 L334.7,1255.1 L334.9,1253.2 L335.2,1251.2 L335.4,1249.2 L335.7,1247.2 L335.9,1245.2 L336.1,1243.2 L336.4,1241.2 L336.6,1239.3 L336.9,1237.3 L337.1,1235.3 L337.4,1233.3 L337.6,1231.3 L337.9,1229.3 L338.1,1227.3 L338.4,1225.3 L338.6,1223.4 L338.9,1221.4 L339.1,1219.4 L339.4,1217.4 L339.6,1215.4 L339.8,1213.4 L340.1,1211.4 L340.3,1209.4 L340.6,1207.5 L340.8,1205.5 L341.1,1203.5 L341.3,1201.5 L341.6,1199.5 L341.8,1197.5 L342.1,1195.5 L342.3,1193.6 L342.6,1191.6 L342.8,1189.6 L343.1,1187.6 L343.3,1185.6 L343.6,1183.6 L343.8,1181.6 L344.1,1179.6 L344.3,1177.7 L344.5,1175.7 L344.8,1173.7 L345.0,1171.7 L345.3,1169.7 L345.5,1167.7 L345.8,1165.7 L346.0,1163.8 L346.3,1161.8 L346.5,1159.8 L346.8,1157.8 L347.0,1155.8 L347.3,1153.8 L347.5,1151.8 L347.8,1149.8 L348.0,1147.9 L348.3,1145.9 L348.5,1143.9 L348.8,1141.9 L349.0,1139.9 L349.3,1137.9 L349.5,1135.9 L349.8,1134.0 L350.0,1132.0 L350.3,1130.0 L350.5,1128.0 L350.8,1126.0 L351.0,1124.0 L351.3,1122.0 L351.5,1120.1 L351.8,1118.1 L352.0,1116.1 L352.3,1114.1 L352.5,1112.1 L352.8,1110.1 L353.0,1108.1 L353.3,1106.1 L353.5,1104.2 L353.8,1102.2 L354.0,1100.2 L354.3,1098.2 L354.5,1096.2 L354.8,1094.2 L355.0,1092.2 L355.3,1090.3 L355.5,1088.3 L355.8,1086.3 L356.0,1084.3 L356.3,1082.3 L356.5,1080.3 L356.8,1078.3 L357.0,1076.3 L357.3,1074.4 L357.5,1072.4 L357.8,1070.4 L358.0,1068.4 L358.3,1066.4 L358.5,1064.4 L358.8,1062.4 L359.0,1060.5 L359.3,1058.5 L359.5,1056.5 L359.8,1054.5 L360.0,1052.5 L360.3,1050.5 L360.5,1048.5 L360.8,1046.6 L361.0,1044.6 L361.3,1042.6 L361.5,1040.6 L361.8,1038.6 L362.0,1036.6 L362.3,1034.6 L362.5,1032.6 L362.8,1030.7 L363.0,1028.7 L363.3,1026.7 L363.5,1024.7 L363.8,1022.7 L364.0,1020.7 L364.2,1018.7 L364.5,1016.7 L364.7,1014.8 L364.9,1012.8 L365.2,1010.8 L365.4,1008.8 L365.6,1006.8 L365.8,1004.8 L366.0,1002.8 L366.3,1000.8 L366.5,998.8 L366.7,996.9 L367.0,994.9 L367.2,992.9 L367.4,990.9 L367.7,988.9 L367.9,986.9 L368.2,984.9 L368.5,982.9 L368.7,981.0 L369.0,979.0 L369.3,977.0 L369.6,975.0 L369.9,973.0 L370.2,971.1 L370.5,969.1 L370.8,967.1 L371.1,965.1 L371.5,963.2 L371.8,961.2 L372.1,959.2 L372.5,957.2 L372.8,955.3 L373.1,953.3 L373.5,951.3 L373.8,949.3 L374.2,947.4 L374.5,945.4 L374.9,943.4 L375.2,941.5 L375.6,939.5 L376.0,937.5 L376.4,935.6 L376.8,933.6 L377.2,931.7 L377.7,929.7 L378.1,927.8 L378.6,925.8 L379.1,923.9 L379.7,922.0 L380.2,920.1 L380.8,918.1 L381.5,916.3 L382.1,914.4 L382.8,912.5 L383.5,910.6 L384.2,908.8 L385.0,906.9 L385.8,905.1 L386.6,903.3 L387.5,901.5 L388.3,899.7 L389.2,897.9 L390.1,896.1 L391.1,894.3 L392.0,892.6 L393.0,890.8 L394.0,889.1 L395.0,887.3 L396.0,885.6 L397.0,883.9 L398.0,882.1 L399.0,880.4 L400.0,878.7 L401.0,877.0 L402.0,875.2 L403.0,873.5 L404.0,871.8 L405.1,870.0 L406.1,868.3 L407.1,866.6 L408.1,864.9 L409.1,863.2 L410.2,861.4 L411.2,859.7 L412.2,858.0 L413.2,856.3 L414.3,854.6 L415.3,852.8 L416.3,851.1 L417.4,849.4 L418.4,847.7 L419.5,846.0 L420.5,844.3 L421.5,842.6 L422.6,840.9 L423.6,839.1 L424.6,837.4 L425.7,835.7 L426.7,834.0 L427.8,832.3 L428.8,830.6 L429.9,828.9 L430.9,827.2 L431.9,825.5 L433.0,823.8 L434.0,822.1 L435.1,820.3 L436.1,818.6 L437.2,816.9 L438.2,815.2 L439.3,813.5 L440.4,811.8 L441.4,810.2 L442.5,808.5 L443.6,806.8 L444.7,805.1 L445.7,803.4 L446.8,801.7 L447.9,800.0 L449.0,798.4 L450.1,796.7 L451.2,795.0 L452.4,793.4 L453.5,791.7 L454.6,790.1 L455.8,788.5 L457.0,786.8 L458.1,785.2 L459.3,783.6 L460.5,782.0 L461.7,780.4 L462.9,778.8 L464.1,777.2 L465.4,775.6 L466.6,774.1 L467.9,772.5 L469.2,771.0 L470.5,769.5 L471.8,768.0 L473.1,766.5 L474.5,765.0 L475.8,763.5 L477.1,762.0 L478.5,760.5 L479.9,759.1 L481.2,757.6 L482.6,756.2 L484.0,754.7 L485.4,753.2 L486.7,751.8 L488.1,750.4 L489.5,748.9 L490.9,747.5 L492.3,746.0 L493.7,744.6 L495.1,743.2 L496.5,741.7 L497.9,740.3 L499.3,738.9 L500.7,737.4 L502.0,736.0 L503.4,734.5 L504.8,733.1 L506.2,731.6 L507.5,730.1 L508.9,728.7 L510.2,727.2 L511.6,725.7 L512.9,724.2 L514.2,722.7 L515.5,721.2 L516.8,719.7 L518.1,718.2 L519.5,716.6 L520.8,715.1 L522.1,713.6 L523.4,712.1 L524.7,710.6 L526.0,709.0 L527.3,707.5 L528.6,706.0 L529.9,704.5 L531.2,703.0 L532.5,701.4 L533.8,699.9 L535.1,698.4 L536.4,696.9 L537.7,695.3 L539.0,693.8 L540.3,692.3 L541.5,690.7 L542.8,689.2 L544.1,687.7 L545.4,686.1 L546.6,684.6 L547.9,683.0 L549.2,681.5 L550.5,679.9 L551.7,678.4 L553.0,676.8 L554.3,675.3 L555.6,673.8 L556.8,672.2 L558.1,670.7 L559.4,669.1 L560.6,667.6 L561.9,666.0 L563.2,664.5 L564.5,662.9 L565.7,661.4 L567.0,659.9 L568.3,658.3 L569.6,656.8 L570.9,655.2 L572.1,653.7 L573.4,652.2 L574.7,650.6 L576.0,649.1 L577.3,647.5 L578.5,646.0 L579.8,644.5 L581.1,642.9 L582.4,641.4 L583.7,639.9 L585.0,638.4 L586.3,636.8 L587.6,635.3 L589.0,633.8 L590.3,632.3 L591.6,630.8 L592.9,629.3 L594.3,627.8 L595.6,626.4 L597.0,624.9 L598.3,623.4 L599.7,621.9 L601.1,620.5 L602.4,619.0 L603.8,617.6 L605.2,616.1 L606.6,614.7 L608.0,613.2 L609.3,611.8 L610.7,610.4 L612.1,608.9 L613.5,607.5 L614.9,606.1 L616.3,604.6 L617.7,603.2 L619.1,601.8 L620.5,600.3 L621.9,598.9 L623.3,597.5 L624.7,596.0 L626.1,594.6 L627.5,593.2 L628.9,591.7 L630.3,590.3 L631.7,588.9 L633.1,587.4 L634.5,586.0 L635.9,584.6 L637.3,583.1 L638.7,581.7 L640.1,580.3 L641.5,578.9 L642.9,577.4 L644.3,576.0 L645.7,574.6 L647.1,573.1 L648.5,571.7 L650.0,570.3 L651.4,568.9 L652.8,567.4 L654.2,566.0 L655.6,564.6 L657.0,563.2 L658.4,561.8 L659.9,560.4 L661.3,559.0 L662.7,557.5 L664.1,556.1 L665.5,554.7 L667.0,553.3 L668.4,551.9 L669.8,550.5 L671.2,549.1 L672.7,547.7 L674.1,546.3 L675.5,544.9 L676.9,543.5 L678.3,542.1 L679.8,540.7 L681.2,539.2 L682.6,537.8 L684.0,536.4 L685.5,535.0 L686.9,533.6 L688.3,532.2 L689.7,530.8 L691.2,529.4 L692.6,528.0 L694.0,526.6 L695.5,525.2 L696.9,523.8 L698.3,522.4 L699.7,521.0 L701.2,519.6 L702.6,518.2 L704.0,516.8 L705.5,515.4 L706.9,514.0 L708.3,512.6 L709.8,511.2 L711.2,509.8 L712.6,508.4 L714.1,507.0 L715.5,505.6 L716.9,504.2 L718.4,502.8 L719.8,501.4 L721.3,500.1 L722.7,498.7 L724.2,497.3 L725.6,495.9 L727.1,494.6 L728.6,493.2 L730.0,491.8 L731.5,490.5 L733.0,489.1 L734.5,487.8 L735.9,486.4 L737.4,485.1 L738.9,483.7 L740.4,482.4 L741.8,481.0 L743.3,479.6 L744.8,478.3 L746.3,476.9 L747.7,475.6 L749.2,474.2 L750.7,472.9 L752.2,471.5 L753.7,470.2 L755.1,468.8 L756.6,467.5 L758.1,466.2 L759.6,464.8 L761.1,463.5 L762.6,462.2 L764.1,460.8 L765.6,459.5 L767.1,458.2 L768.6,456.8 L770.1,455.5 L771.6,454.2 L773.1,452.9 L774.6,451.5 L776.1,450.2 L777.6,448.9 L779.1,447.6 L780.6,446.3 L782.1,445.0 L783.6,443.7 L785.2,442.3 L786.7,441.1 L788.2,439.8 L789.7,438.5 L791.3,437.2 L792.8,435.9 L794.4,434.6 L795.9,433.4 L797.5,432.1 L799.0,430.9 L800.6,429.6 L802.2,428.4 L803.8,427.2 L805.4,426.0 L807.0,424.8 L808.6,423.6 L810.2,422.5 L811.9,421.3 L813.5,420.2 L815.2,419.1 L816.9,418.0 L818.6,417.0 L820.3,415.9 L822.0,414.9 L823.8,413.9 L825.5,413.0 L827.3,412.0 L829.0,411.1 L830.8,410.1 L832.5,409.2 L834.3,408.2 L836.1,407.3 L837.9,406.4 L839.6,405.5 L841.4,404.5 L843.2,403.6 L845.0,402.7 L846.7,401.7 L848.5,400.8 L850.3,399.9 L852.1,399.0 L853.8,398.1 L855.6,397.2 L857.4,396.3 L859.2,395.4 L861.0,394.6 L862.8,393.7 L864.7,392.9 L866.5,392.1 L868.4,391.4 L870.2,390.6 L872.1,389.9 L873.9,389.2 L875.8,388.5 L877.7,387.9 L879.6,387.2 L881.5,386.5 L883.4,385.9 L885.3,385.2 L887.2,384.6 L889.0,383.9 L890.9,383.2 L892.8,382.6 L894.7,381.9 L896.6,381.3 L898.5,380.6 L900.4,380.0 L902.3,379.3 L904.2,378.7 L906.1,378.0 L908.0,377.4 L909.9,376.8 L911.8,376.1 L913.7,375.5 L915.6,374.9 L917.5,374.3 L919.4,373.7 L921.3,373.1 L923.2,372.5 L925.1,371.9 L927.1,371.4 L929.0,370.8 L930.9,370.3 L932.8,369.7 L934.8,369.2 L936.7,368.6 L938.6,368.1 L940.5,367.5 L942.5,367.0 L944.4,366.4 L946.3,365.9 L948.2,365.3 L950.2,364.8 L952.1,364.2 L954.0,363.7 L956.0,363.2 L957.9,362.6 L959.8,362.1 L961.7,361.5 L963.7,361.0 L965.6,360.5 L967.5,360.0 L969.5,359.4 L971.4,358.9 L973.3,358.4 L975.3,357.9 L977.2,357.4 L979.1,356.9 L981.1,356.3 L983.0,355.8 L984.9,355.3 L986.9,354.8 L988.8,354.3 L990.8,353.8 L992.7,353.3 L994.6,352.8 L996.6,352.3 L998.5,351.8 L1000.4,351.3 L1002.4,350.8 L1004.3,350.3 L1006.3,349.8 L1008.2,349.3 L1010.1,348.8 L1012.1,348.3 L1014.0,347.8 L1015.9,347.3 L1017.9,346.8 L1019.8,346.3 L1021.8,345.8 L1023.7,345.3 L1025.6,344.8 L1027.6,344.3 L1029.5,343.8 L1031.5,343.2 L1033.4,342.7 L1035.3,342.2 L1037.3,341.7 L1039.2,341.2 L1041.1,340.7 L1043.1,340.2 L1045.0,339.7 L1047.0,339.2 L1048.9,338.7 L1050.8,338.2 L1052.8,337.7 L1054.7,337.2 L1056.6,336.7 L1058.6,336.2 L1060.5,335.7 L1062.5,335.2 L1064.4,334.7 L1066.3,334.2 L1068.3,333.7 L1070.2,333.2 L1072.1,332.7 L1074.1,332.2 L1076.0,331.7 L1078.0,331.2 L1079.9,330.7 L1081.8,330.2 L1083.8,329.7 L1085.7,329.2 L1087.7,328.7 L1089.6,328.2 L1091.5,327.7 L1093.5,327.2 L1095.4,326.7 L1097.3,326.2 L1099.3,325.7 L1101.2,325.2 L1103.2,324.7 L1105.1,324.2 L1107.1,323.8 L1109.0,323.3 L1111.0,322.8 L1112.9,322.3 L1114.8,321.9 L1116.8,321.4 L1118.7,320.9 L1120.7,320.5 L1122.6,320.0 L1124.6,319.5 L1126.5,319.1 L1128.5,318.6 L1130.4,318.1 L1132.4,317.6 L1134.3,317.2 L1136.3,316.7 L1138.2,316.2 L1140.1,315.8 L1142.1,315.3 L1144.0,314.8 L1146.0,314.4 L1147.9,313.9 L1149.9,313.4 L1151.8,312.9 L1153.8,312.5 L1155.7,312.0 L1157.7,311.5 L1159.6,311.1 L1161.6,310.6 L1163.5,310.1 L1165.4,309.7 L1167.4,309.2 L1169.3,308.7 L1171.3,308.2 L1173.2,307.8 L1175.2,307.3 L1177.1,306.8 L1179.1,306.4 L1181.0,305.9 L1183.0,305.4 L1184.9,305.0 L1186.9,304.5 L1188.8,304.0 L1190.7,303.6 L1192.7,303.1 L1194.6,302.6 L1196.6,302.1 L1198.5,301.7 L1200.5,301.2 L1202.4,300.7 L1204.4,300.3 L1206.3,299.8 L1208.3,299.3 L1210.2,298.9 L1212.2,298.4 L1214.1,297.9 L1216.1,297.4 L1218.0,297.0 L1219.9,296.5 L1221.9,296.0 L1223.8,295.6 L1225.8,295.1 L1227.7,294.6 L1229.7,294.2 L1231.6,293.7 L1233.6,293.3 L1235.5,292.8 L1237.5,292.3 L1239.4,291.9 L1241.4,291.5 L1243.3,291.0 L1245.3,290.6 L1247.2,290.1 L1249.2,289.7 L1251.2,289.3 L1253.1,288.9 L1255.1,288.4 L1257.0,288.0 L1259.0,287.6 L1260.9,287.2 L1262.9,286.7 L1264.8,286.3 L1266.8,285.9 L1268.8,285.5 L1270.7,285.0 L1272.7,284.6 L1274.6,284.2 L1276.6,283.8 L1278.5,283.4 L1280.5,282.9 L1282.5,282.5 L1284.4,282.1 L1286.4,281.7 L1288.3,281.3 L1290.3,280.9 L1292.3,280.5 L1294.2,280.2 L1296.2,279.8 L1298.2,279.4 L1300.1,279.1 L1302.1,278.7 L1304.1,278.3 L1306.1,278.0 L1308.0,277.6 L1310.0,277.3 L1312.0,276.9 L1313.9,276.6 L1315.9,276.2 L1317.9,275.9 L1319.9,275.5 L1321.8,275.2 L1323.8,274.8 L1325.8,274.5 L1327.7,274.1 L1329.7,273.8 L1331.7,273.4 L1333.6,273.1 L1335.6,272.7 L1337.6,272.4 L1339.6,272.0 L1341.5,271.7 L1343.5,271.4 L1345.5,271.0 L1347.5,270.7 L1349.4,270.4 L1351.4,270.1 L1353.4,269.8 L1355.4,269.5 L1357.3,269.1 L1359.3,268.8 L1361.3,268.5 L1363.3,268.2 L1365.3,267.9 L1367.2,267.6 L1369.2,267.3 L1371.2,267.0 L1373.2,266.7 L1375.2,266.4 L1377.1,266.1 L1379.1,265.7 L1381.1,265.4 L1383.1,265.1 L1385.0,264.8 L1387.0,264.5 L1389.0,264.2 L1391.0,263.9 L1393.0,263.6 L1394.9,263.3 L1396.9,262.9 L1398.9,262.6 L1400.9,262.3 L1402.8,261.9 L1404.8,261.6 L1406.8,261.3 L1408.8,260.9 L1410.7,260.6 L1412.7,260.3 L1414.7,259.9 L1416.6,259.6 L1418.6,259.2 L1420.6,258.9 L1422.6,258.5 L1424.5,258.2 L1426.5,257.9 L1428.5,257.5 L1430.5,257.2 L1432.4,256.8 L1434.4,256.5 L1436.4,256.1 L1438.3,255.8 L1440.3,255.5 L1442.3,255.1 L1444.3,254.8 L1446.2,254.5 L1448.2,254.2 L1450.2,253.9 L1452.2,253.6 L1454.2,253.4 L1456.1,253.1 L1458.1,252.9 L1460.1,252.7 L1462.1,252.4 L1464.1,252.3 L1466.1,252.1 L1468.1,251.9 L1470.1,251.7 L1472.1,251.5 L1474.1,251.3 L1476.1,251.2 L1478.1,251.0 L1480.1,250.8 L1482.0,250.6 L1484.0,250.5 L1486.0,250.3 L1488.0,250.1 L1490.0,250.0 L1492.0,249.8 L1494.0,249.6 L1496.0,249.4 L1498.0,249.3 L1500.0,249.1 L1502.0,249.0 L1504.0,248.8 L1506.0,248.7 L1508.0,248.5 L1510.0,248.4 L1512.0,248.3 L1514.0,248.2 L1516.0,248.0 L1518.0,247.9 L1520.0,247.8 L1522.0,247.7 L1524.0,247.7 L1526.0,247.6 L1528.0,247.5 L1530.0,247.4 L1532.0,247.3 L1534.0,247.2 L1536.0,247.1 L1538.0,247.0 L1540.0,247.0 L1542.0,246.9 L1544.0,246.8 L1546.0,246.7 L1548.0,246.6 L1550.0,246.5 L1552.0,246.4 L1554.0,246.4 L1556.0,246.3 L1558.0,246.2 L1560.0,246.2 L1562.0,246.1 L1564.0,246.1 L1566.0,246.0 L1568.0,246.0 L1570.0,246.0 L1572.0,245.9 L1574.0,245.9 L1576.0,245.9 L1578.0,245.9 L1580.0,245.9" stroke="#f01414" stroke-width="5.3" stroke-dasharray="29 26" stroke-dashoffset="22.97"/>
<path d="M289.5,1663.0 L289.7,1661.0 L289.8,1659.0 L290.0,1657.0 L290.1,1655.0 L290.3,1653.0 L290.4,1651.0 L290.6,1649.0 L290.7,1647.0 L290.9,1645.0 L291.0,1643.0 L291.2,1641.0 L291.3,1639.0 L291.5,1637.0 L291.7,1635.0 L291.8,1633.0 L292.0,1631.0 L292.1,1629.0 L292.3,1627.0 L292.4,1625.0 L292.6,1623.1 L292.7,1621.1 L292.9,1619.1 L293.0,1617.1 L293.2,1615.1 L293.4,1613.1 L293.5,1611.1 L293.7,1609.1 L293.8,1607.1 L294.0,1605.1 L294.1,1603.1 L294.3,1601.1 L294.4,1599.1 L294.6,1597.1 L294.7,1595.1 L294.9,1593.1 L295.0,1591.1 L295.2,1589.1 L295.4,1587.1 L295.5,1585.1 L295.7,1583.1 L295.8,1581.1 L296.0,1579.1 L296.1,1577.1 L296.3,1575.1 L296.4,1573.1 L296.6,1571.1 L296.7,1569.1 L296.9,1567.1 L297.1,1565.1 L297.2,1563.1 L297.4,1561.1 L297.5,1559.1 L297.7,1557.1 L297.8,1555.1 L298.0,1553.1 L298.1,1551.1 L298.3,1549.1 L298.4,1547.2 L298.6,1545.2 L298.7,1543.2 L298.9,1541.2 L299.1,1539.2 L299.2,1537.2 L299.4,1535.2 L299.5,1533.2 L299.7,1531.2 L299.8,1529.2 L300.0,1527.2 L300.1,1525.2 L300.3,1523.2 L300.4,1521.2 L300.6,1519.2 L300.8,1517.2 L300.9,1515.2 L301.1,1513.2 L301.2,1511.2 L301.4,1509.2 L301.6,1507.2 L301.8,1505.2 L302.0,1503.2 L302.2,1501.2 L302.4,1499.2 L302.6,1497.2 L302.8,1495.3 L303.1,1493.3 L303.3,1491.3 L303.5,1489.3 L303.8,1487.3 L304.0,1485.3 L304.3,1483.3 L304.5,1481.3 L304.8,1479.4 L305.1,1477.4 L305.3,1475.4 L305.6,1473.4 L305.8,1471.4 L306.1,1469.4 L306.4,1467.4 L306.6,1465.4 L306.9,1463.5 L307.1,1461.5 L307.4,1459.5 L307.6,1457.5 L307.9,1455.5 L308.2,1453.5 L308.4,1451.5 L308.7,1449.6 L308.9,1447.6 L309.2,1445.6 L309.4,1443.6 L309.7,1441.6 L310.0,1439.6 L310.2,1437.6 L310.5,1435.6 L310.7,1433.7 L311.0,1431.7 L311.2,1429.7 L311.5,1427.7 L311.8,1425.7 L312.0,1423.7 L312.3,1421.7 L312.5,1419.8 L312.8,1417.8 L313.0,1415.8 L313.3,1413.8 L313.6,1411.8 L313.8,1409.8 L314.1,1407.8 L314.3,1405.8 L314.6,1403.9 L314.8,1401.9 L315.1,1399.9 L315.4,1397.9 L315.6,1395.9 L315.9,1393.9 L316.1,1391.9 L316.4,1390.0 L316.7,1388.0 L316.9,1386.0 L317.2,1384.0 L317.4,1382.0 L317.7,1380.0 L317.9,1378.0 L318.2,1376.0 L318.5,1374.1 L318.7,1372.1 L319.0,1370.1 L319.2,1368.1 L319.5,1366.1 L319.7,1364.1 L320.0,1362.1 L320.3,1360.2 L320.5,1358.2 L320.8,1356.2 L321.0,1354.2 L321.3,1352.2 L321.5,1350.2 L321.8,1348.2 L322.1,1346.2 L322.3,1344.3 L322.6,1342.3 L322.8,1340.3 L323.1,1338.3 L323.3,1336.3 L323.6,1334.3 L323.8,1332.3 L324.1,1330.3 L324.3,1328.4 L324.6,1326.4 L324.8,1324.4 L325.1,1322.4 L325.3,1320.4 L325.6,1318.4 L325.8,1316.4 L326.1,1314.4 L326.3,1312.5 L326.5,1310.5 L326.8,1308.5 L327.0,1306.5 L327.3,1304.5 L327.5,1302.5 L327.8,1300.5 L328.0,1298.5 L328.3,1296.5 L328.5,1294.6 L328.8,1292.6 L329.0,1290.6 L329.3,1288.6 L329.5,1286.6 L329.8,1284.6 L330.0,1282.6 L330.2,1280.6 L330.5,1278.7 L330.7,1276.7 L331.0,1274.7 L331.2,1272.7 L331.5,1270.7 L331.7,1268.7 L332.0,1266.7 L332.2,1264.7 L332.5,1262.8 L332.7,1260.8 L333.0,1258.8 L333.2,1256.8 L333.5,1254.8 L333.7,1252.8 L334.0,1250.8 L334.2,1248.8 L334.4,1246.8 L334.7,1244.9 L334.9,1242.9 L335.2,1240.9 L335.4,1238.9 L335.7,1236.9 L335.9,1234.9 L336.2,1232.9 L336.4,1230.9 L336.7,1229.0 L336.9,1227.0 L337.2,1225.0 L337.4,1223.0 L337.7,1221.0 L337.9,1219.0 L338.2,1217.0 L338.4,1215.0 L338.6,1213.0 L338.9,1211.1 L339.1,1209.1 L339.4,1207.1 L339.6,1205.1 L339.9,1203.1 L340.1,1201.1 L340.4,1199.1 L340.6,1197.1 L340.9,1195.2 L341.1,1193.2 L341.4,1191.2 L341.6,1189.2 L341.9,1187.2 L342.1,1185.2 L342.4,1183.2 L342.6,1181.2 L342.9,1179.3 L343.1,1177.3 L343.3,1175.3 L343.6,1173.3 L343.9,1171.3 L344.1,1169.3 L344.4,1167.3 L344.6,1165.3 L344.9,1163.4 L345.1,1161.4 L345.4,1159.4 L345.6,1157.4 L345.9,1155.4 L346.1,1153.4 L346.4,1151.4 L346.6,1149.4 L346.9,1147.5 L347.1,1145.5 L347.4,1143.5 L347.6,1141.5 L347.9,1139.5 L348.1,1137.5 L348.4,1135.5 L348.6,1133.5 L348.9,1131.6 L349.1,1129.6 L349.4,1127.6 L349.6,1125.6 L349.9,1123.6 L350.1,1121.6 L350.4,1119.6 L350.6,1117.6 L350.9,1115.7 L351.1,1113.7 L351.4,1111.7 L351.6,1109.7 L351.9,1107.7 L352.1,1105.7 L352.4,1103.7 L352.7,1101.7 L352.9,1099.8 L353.2,1097.8 L353.4,1095.8 L353.7,1093.8 L353.9,1091.8 L354.2,1089.8 L354.4,1087.8 L354.7,1085.8 L354.9,1083.9 L355.2,1081.9 L355.4,1079.9 L355.7,1077.9 L355.9,1075.9 L356.2,1073.9 L356.4,1071.9 L356.7,1069.9 L356.9,1068.0 L357.2,1066.0 L357.4,1064.0 L357.7,1062.0 L357.9,1060.0 L358.2,1058.0 L358.4,1056.0 L358.7,1054.0 L358.9,1052.1 L359.2,1050.1 L359.4,1048.1 L359.7,1046.1 L359.9,1044.1 L360.2,1042.1 L360.4,1040.1 L360.7,1038.1 L360.9,1036.2 L361.2,1034.2 L361.5,1032.2 L361.7,1030.2 L361.9,1028.2 L362.2,1026.2 L362.4,1024.2 L362.7,1022.2 L362.9,1020.2 L363.2,1018.3 L363.4,1016.3 L363.6,1014.3 L363.8,1012.3 L364.1,1010.3 L364.3,1008.3 L364.5,1006.3 L364.7,1004.3 L364.9,1002.3 L365.1,1000.3 L365.3,998.3 L365.6,996.4 L365.8,994.4 L366.0,992.4 L366.2,990.4 L366.5,988.4 L366.7,986.4 L367.0,984.4 L367.3,982.4 L367.5,980.5 L367.8,978.5 L368.1,976.5 L368.4,974.5 L368.7,972.5 L369.0,970.6 L369.3,968.6 L369.7,966.6 L370.0,964.6 L370.3,962.6 L370.6,960.7 L371.0,958.7 L371.3,956.7 L371.6,954.7 L372.0,952.8 L372.3,950.8 L372.7,948.8 L373.0,946.8 L373.3,944.9 L373.7,942.9 L374.0,940.9 L374.4,939.0 L374.8,937.0 L375.1,935.0 L375.5,933.1 L376.0,931.1 L376.4,929.2 L376.9,927.2 L377.3,925.3 L377.9,923.3 L378.4,921.4 L379.0,919.5 L379.6,917.6 L380.2,915.7 L380.8,913.8 L381.5,911.9 L382.2,910.1 L383.0,908.2 L383.7,906.4 L384.5,904.5 L385.3,902.7 L386.2,900.9 L387.0,899.1 L387.9,897.3 L388.8,895.5 L389.8,893.8 L390.7,892.0 L391.7,890.2 L392.7,888.5 L393.7,886.8 L394.7,885.0 L395.7,883.3 L396.7,881.6 L397.7,879.8 L398.7,878.1 L399.7,876.4 L400.7,874.6 L401.7,872.9 L402.7,871.2 L403.7,869.4 L404.7,867.7 L405.7,866.0 L406.7,864.2 L407.8,862.5 L408.8,860.8 L409.8,859.1 L410.8,857.3 L411.9,855.6 L412.9,853.9 L413.9,852.2 L414.9,850.5 L416.0,848.8 L417.0,847.0 L418.0,845.3 L419.1,843.6 L420.1,841.9 L421.1,840.2 L422.2,838.5 L423.2,836.7 L424.2,835.0 L425.3,833.3 L426.3,831.6 L427.3,829.9 L428.4,828.2 L429.4,826.4 L430.4,824.7 L431.5,823.0 L432.5,821.3 L433.6,819.6 L434.6,817.9 L435.7,816.2 L436.7,814.5 L437.8,812.8 L438.8,811.1 L439.9,809.4 L441.0,807.7 L442.1,806.0 L443.1,804.3 L444.2,802.6 L445.3,800.9 L446.4,799.3 L447.5,797.6 L448.6,795.9 L449.7,794.3 L450.9,792.6 L452.0,791.0 L453.1,789.3 L454.3,787.7 L455.4,786.1 L456.6,784.4 L457.8,782.8 L459.0,781.2 L460.2,779.6 L461.4,778.0 L462.6,776.4 L463.9,774.9 L465.1,773.3 L466.4,771.8 L467.7,770.2 L469.0,768.7 L470.3,767.2 L471.7,765.7 L473.0,764.2 L474.3,762.8 L475.7,761.3 L477.0,759.8 L478.4,758.3 L479.8,756.8 L481.1,755.4 L482.5,753.9 L483.8,752.5 L485.2,751.0 L486.6,749.5 L488.0,748.1 L489.4,746.6 L490.8,745.2 L492.1,743.8 L493.5,742.3 L494.9,740.9 L496.3,739.4 L497.7,738.0 L499.1,736.6 L500.5,735.1 L501.9,733.7 L503.3,732.2 L504.6,730.7 L506.0,729.3 L507.3,727.8 L508.6,726.3 L510.0,724.8 L511.3,723.3 L512.6,721.8 L513.9,720.2 L515.2,718.7 L516.4,717.1 L517.7,715.6 L519.0,714.1 L520.2,712.5 L521.5,711.0 L522.8,709.4 L524.1,707.8 L525.3,706.3 L526.6,704.7 L527.9,703.2 L529.1,701.6 L530.4,700.1 L531.6,698.5 L532.9,697.0 L534.2,695.4 L535.4,693.8 L536.7,692.3 L537.9,690.7 L539.1,689.1 L540.4,687.6 L541.6,686.0 L542.9,684.4 L544.1,682.8 L545.3,681.3 L546.5,679.7 L547.8,678.1 L549.0,676.5 L550.2,674.9 L551.5,673.3 L552.7,671.8 L553.9,670.2 L555.1,668.6 L556.4,667.0 L557.6,665.4 L558.8,663.8 L560.1,662.3 L561.3,660.7 L562.5,659.1 L563.8,657.5 L565.0,656.0 L566.3,654.4 L567.5,652.8 L568.7,651.3 L570.0,649.7 L571.2,648.1 L572.5,646.5 L573.7,645.0 L575.0,643.4 L576.2,641.8 L577.5,640.3 L578.7,638.7 L580.0,637.1 L581.2,635.6 L582.5,634.0 L583.8,632.5 L585.0,630.9 L586.3,629.4 L587.6,627.9 L588.9,626.3 L590.2,624.8 L591.5,623.3 L592.8,621.8 L594.1,620.3 L595.5,618.8 L596.8,617.3 L598.1,615.8 L599.5,614.3 L600.8,612.8 L602.2,611.4 L603.6,609.9 L605.0,608.5 L606.4,607.0 L607.7,605.6 L609.1,604.1 L610.5,602.7 L611.9,601.3 L613.3,599.9 L614.7,598.4 L616.2,597.0 L617.6,595.6 L619.0,594.1 L620.4,592.7 L621.8,591.3 L623.2,589.9 L624.6,588.4 L626.0,587.0 L627.4,585.6 L628.8,584.1 L630.2,582.7 L631.6,581.3 L633.0,579.8 L634.4,578.4 L635.8,577.0 L637.2,575.5 L638.6,574.1 L640.0,572.7 L641.4,571.2 L642.7,569.8 L644.1,568.3 L645.5,566.9 L646.9,565.4 L648.3,564.0 L649.7,562.5 L651.1,561.1 L652.4,559.6 L653.8,558.2 L655.2,556.8 L656.6,555.3 L658.0,553.9 L659.4,552.4 L660.8,551.0 L662.2,549.6 L663.6,548.1 L665.0,546.7 L666.4,545.3 L667.8,543.9 L669.2,542.4 L670.6,541.0 L672.0,539.6 L673.4,538.1 L674.8,536.7 L676.2,535.3 L677.7,533.9 L679.1,532.4 L680.5,531.0 L681.9,529.6 L683.3,528.1 L684.7,526.7 L686.1,525.3 L687.5,523.9 L688.9,522.4 L690.3,521.0 L691.7,519.6 L693.1,518.2 L694.5,516.7 L695.9,515.3 L697.3,513.9 L698.7,512.5 L700.2,511.0 L701.6,509.6 L703.0,508.2 L704.4,506.8 L705.8,505.3 L707.2,503.9 L708.6,502.5 L710.1,501.1 L711.5,499.7 L712.9,498.3 L714.3,496.9 L715.7,495.4 L717.2,494.0 L718.6,492.6 L720.0,491.2 L721.5,489.8 L722.9,488.5 L724.4,487.1 L725.8,485.7 L727.3,484.3 L728.7,482.9 L730.2,481.6 L731.6,480.2 L733.1,478.8 L734.6,477.5 L736.1,476.1 L737.5,474.8 L739.0,473.4 L740.5,472.0 L741.9,470.7 L743.4,469.3 L744.9,467.9 L746.3,466.6 L747.8,465.2 L749.3,463.8 L750.7,462.5 L752.2,461.1 L753.7,459.7 L755.1,458.4 L756.6,457.0 L758.1,455.6 L759.5,454.3 L761.0,452.9 L762.4,451.5 L763.9,450.2 L765.4,448.8 L766.8,447.4 L768.3,446.1 L769.8,444.7 L771.2,443.4 L772.7,442.0 L774.2,440.6 L775.7,439.3 L777.1,437.9 L778.6,436.6 L780.1,435.2 L781.6,433.9 L783.1,432.5 L784.5,431.2 L786.0,429.8 L787.5,428.5 L789.0,427.2 L790.5,425.8 L792.0,424.5 L793.5,423.2 L795.0,421.9 L796.6,420.6 L798.1,419.3 L799.6,418.0 L801.1,416.7 L802.6,415.4 L804.2,414.1 L805.7,412.8 L807.3,411.5 L808.8,410.3 L810.4,409.1 L812.0,407.8 L813.6,406.6 L815.2,405.4 L816.8,404.3 L818.4,403.1 L820.1,402.0 L821.7,400.8 L823.4,399.7 L825.1,398.6 L826.8,397.5 L828.4,396.4 L830.1,395.4 L831.8,394.3 L833.5,393.2 L835.2,392.2 L836.9,391.1 L838.6,390.1 L840.3,389.0 L842.0,388.0 L843.8,387.0 L845.5,385.9 L847.2,384.9 L848.9,383.9 L850.7,382.9 L852.4,382.0 L854.2,381.0 L856.0,380.1 L857.7,379.2 L859.5,378.3 L861.3,377.4 L863.1,376.5 L864.9,375.7 L866.7,374.8 L868.6,374.0 L870.4,373.2 L872.2,372.3 L874.1,371.5 L875.9,370.7 L877.7,369.9 L879.6,369.1 L881.4,368.4 L883.3,367.6 L885.1,366.8 L887.0,366.0 L888.8,365.3 L890.7,364.5 L892.5,363.8 L894.4,363.1 L896.3,362.3 L898.1,361.6 L900.0,360.9 L901.9,360.2 L903.8,359.6 L905.7,358.9 L907.5,358.2 L909.4,357.6 L911.3,357.0 L913.2,356.3 L915.2,355.7 L917.1,355.1 L919.0,354.5 L920.9,353.9 L922.8,353.3 L924.7,352.7 L926.6,352.1 L928.5,351.5 L930.4,350.8 L932.3,350.2 L934.2,349.6 L936.1,349.0 L938.1,348.4 L940.0,347.8 L941.9,347.2 L943.8,346.6 L945.7,346.0 L947.6,345.4 L949.5,344.9 L951.5,344.3 L953.4,343.7 L955.3,343.1 L957.2,342.6 L959.1,342.0 L961.1,341.4 L963.0,340.9 L964.9,340.3 L966.8,339.7 L968.7,339.2 L970.7,338.6 L972.6,338.0 L974.5,337.5 L976.4,336.9 L978.4,336.3 L980.3,335.8 L982.2,335.2 L984.1,334.7 L986.0,334.1 L988.0,333.5 L989.9,333.0 L991.8,332.4 L993.7,331.8 L995.7,331.3 L997.6,330.7 L999.5,330.1 L1001.4,329.5 L1003.3,329.0 L1005.2,328.4 L1007.2,327.8 L1009.1,327.2 L1011.0,326.7 L1012.9,326.1 L1014.8,325.5 L1016.8,324.9 L1018.7,324.3 L1020.6,323.8 L1022.5,323.2 L1024.4,322.6 L1026.3,322.0 L1028.3,321.4 L1030.2,320.9 L1032.1,320.3 L1034.0,319.7 L1035.9,319.1 L1037.8,318.5 L1039.8,318.0 L1041.7,317.4 L1043.6,316.8 L1045.5,316.2 L1047.4,315.6 L1049.4,315.0 L1051.3,314.5 L1053.2,313.9 L1055.1,313.3 L1057.0,312.7 L1058.9,312.1 L1060.9,311.6 L1062.8,311.0 L1064.7,310.4 L1066.6,309.8 L1068.5,309.2 L1070.4,308.7 L1072.4,308.1 L1074.3,307.5 L1076.2,306.9 L1078.1,306.3 L1080.0,305.7 L1081.9,305.2 L1083.9,304.6 L1085.8,304.0 L1087.7,303.4 L1089.6,302.8 L1091.5,302.3 L1093.4,301.7 L1095.4,301.1 L1097.3,300.5 L1099.2,299.9 L1101.1,299.3 L1103.0,298.7 L1104.9,298.2 L1106.9,297.6 L1108.8,297.0 L1110.7,296.4 L1112.6,295.8 L1114.5,295.2 L1116.4,294.6 L1118.3,294.0 L1120.2,293.4 L1122.2,292.8 L1124.1,292.2 L1126.0,291.6 L1127.9,291.0 L1129.8,290.5 L1131.7,289.9 L1133.6,289.3 L1135.6,288.7 L1137.5,288.1 L1139.4,287.5 L1141.3,286.9 L1143.2,286.3 L1145.1,285.7 L1147.0,285.1 L1149.0,284.5 L1150.9,283.9 L1152.8,283.3 L1154.7,282.7 L1156.6,282.2 L1158.5,281.6 L1160.4,281.0 L1162.4,280.4 L1164.3,279.8 L1166.2,279.3 L1168.1,278.7 L1170.0,278.1 L1172.0,277.6 L1173.9,277.1 L1175.8,276.5 L1177.8,276.0 L1179.7,275.5 L1181.6,275.0 L1183.6,274.4 L1185.5,273.9 L1187.4,273.4 L1189.4,272.9 L1191.3,272.4 L1193.3,271.9 L1195.2,271.4 L1197.1,270.9 L1199.1,270.4 L1201.0,269.9 L1202.9,269.4 L1204.9,268.8 L1206.8,268.3 L1208.8,267.8 L1210.7,267.3 L1212.6,266.8 L1214.6,266.3 L1216.5,265.8 L1218.4,265.3 L1220.4,264.8 L1222.3,264.3 L1224.3,263.8 L1226.2,263.3 L1228.1,262.7 L1230.1,262.2 L1232.0,261.7 L1233.9,261.2 L1235.9,260.7 L1237.8,260.2 L1239.8,259.7 L1241.7,259.2 L1243.7,258.7 L1245.6,258.3 L1247.5,257.8 L1249.5,257.3 L1251.4,256.8 L1253.4,256.3 L1255.3,255.9 L1257.3,255.4 L1259.2,255.0 L1261.2,254.5 L1263.1,254.1 L1265.1,253.6 L1267.0,253.2 L1269.0,252.7 L1270.9,252.3 L1272.9,251.9 L1274.9,251.5 L1276.8,251.1 L1278.8,250.7 L1280.7,250.3 L1282.7,249.8 L1284.7,249.4 L1286.6,249.0 L1288.6,248.6 L1290.6,248.2 L1292.5,247.8 L1294.5,247.4 L1296.4,247.0 L1298.4,246.6 L1300.4,246.2 L1302.3,245.8 L1304.3,245.4 L1306.3,245.0 L1308.2,244.6 L1310.2,244.2 L1312.2,243.8 L1314.1,243.5 L1316.1,243.1 L1318.1,242.7 L1320.0,242.3 L1322.0,241.9 L1324.0,241.6 L1325.9,241.2 L1327.9,240.8 L1329.9,240.5 L1331.8,240.1 L1333.8,239.7 L1335.8,239.4 L1337.7,239.0 L1339.7,238.7 L1341.7,238.3 L1343.7,237.9 L1345.6,237.6 L1347.6,237.2 L1349.6,236.8 L1351.5,236.5 L1353.5,236.1 L1355.5,235.8 L1357.5,235.4 L1359.4,235.0 L1361.4,234.7 L1363.4,234.3 L1365.3,233.9 L1367.3,233.6 L1369.3,233.2 L1371.2,232.9 L1373.2,232.5 L1375.2,232.1 L1377.2,231.8 L1379.1,231.4 L1381.1,231.0 L1383.1,230.7 L1385.0,230.3 L1387.0,229.9 L1389.0,229.6 L1390.9,229.2 L1392.9,228.8 L1394.9,228.5 L1396.8,228.1 L1398.8,227.7 L1400.8,227.4 L1402.8,227.0 L1404.7,226.7 L1406.7,226.3 L1408.7,226.0 L1410.6,225.6 L1412.6,225.3 L1414.6,225.0 L1416.6,224.6 L1418.6,224.3 L1420.5,224.0 L1422.5,223.7 L1424.5,223.4 L1426.5,223.1 L1428.5,222.8 L1430.4,222.5 L1432.4,222.2 L1434.4,221.9 L1436.4,221.6 L1438.4,221.3 L1440.3,221.0 L1442.3,220.7 L1444.3,220.4 L1446.3,220.1 L1448.3,219.8 L1450.2,219.5 L1452.2,219.2 L1454.2,219.0 L1456.2,218.7 L1458.2,218.4 L1460.2,218.2 L1462.2,217.9 L1464.1,217.6 L1466.1,217.4 L1468.1,217.2 L1470.1,216.9 L1472.1,216.7 L1474.1,216.5 L1476.1,216.3 L1478.1,216.0 L1480.1,215.8 L1482.1,215.6 L1484.0,215.4 L1486.0,215.2 L1488.0,215.0 L1490.0,214.7 L1492.0,214.5 L1494.0,214.3 L1496.0,214.1 L1498.0,213.9 L1500.0,213.7 L1502.0,213.5 L1504.0,213.3 L1506.0,213.1 L1508.0,212.9 L1509.9,212.7 L1511.9,212.6 L1513.9,212.4 L1515.9,212.3 L1517.9,212.2 L1519.9,212.0 L1521.9,211.9 L1523.9,211.8 L1525.9,211.7 L1527.9,211.6 L1529.9,211.5 L1531.9,211.4 L1533.9,211.3 L1535.9,211.2 L1537.9,211.1 L1539.9,211.0 L1541.9,210.9 L1543.9,210.8 L1545.9,210.8 L1547.9,210.7 L1549.9,210.6 L1551.9,210.5 L1554.0,210.4 L1556.0,210.3 L1558.0,210.2 L1560.0,210.2 L1562.0,210.1 L1564.0,210.0 L1566.0,210.0 L1568.0,209.9 L1570.0,209.8 L1572.0,209.8 L1574.0,209.7 L1576.0,209.7 L1578.0,209.7 L1580.0,209.6 L1582.0,209.6 L1584.0,209.5 L1586.0,209.5 L1588.0,209.4 L1590.0,209.4 L1592.0,209.3 L1594.0,209.3" stroke="#000" stroke-width="5.3" stroke-dasharray="14 10.7" stroke-dashoffset="24.33"/>
</g>
<rect x="1271" y="1104" width="425" height="503" fill="#fff"/>
<path d="M1283.5,1168.0 H1422.0" stroke="#000" stroke-width="6" stroke-dasharray="14 10.7" fill="none"/>
<path d="M1288.0,1242.0 H1430.0" stroke="#f01414" stroke-width="6" stroke-dasharray="30 26" fill="none"/>
<path d="M1286.0,1314.0 H1416.0" stroke="#000" stroke-width="6" stroke-dasharray="25 15 5 16 5 17" fill="none"/>
<path d="M1288.5,1391.0 H1414.0" stroke="#f01414" stroke-width="6" stroke-dasharray="34 14 7 14" fill="none"/>
<path d="M1288.2,1462.0 H1413.9" stroke="#000" stroke-width="7" stroke-linecap="round" stroke-dasharray="0.1 15.6" fill="none"/>
<path d="M1283.5,1536.0 H1424.5" stroke="#f01414" stroke-width="6" fill="none"/>
<g font-family="'Liberation Sans', Arial, sans-serif" font-size="61" fill="#000" style="font-kerning:none">
<text x="254" y="1680.8" text-anchor="end">0</text>
<text x="254" y="1357.1" text-anchor="end">50</text>
<text x="254" y="1033.4" text-anchor="end"><tspan font-family="Roboto, 'Liberation Sans', sans-serif">1</tspan>00</text>
<text x="254" y="709.7" text-anchor="end"><tspan font-family="Roboto, 'Liberation Sans', sans-serif">1</tspan>50</text>
<text x="254" y="386.0" text-anchor="end">200</text>
<text x="254" y="62.3" text-anchor="end">250</text>
<text x="290.2" y="1745" text-anchor="middle">0</text>
<text x="694.5" y="1745" text-anchor="middle"><tspan font-family="Roboto, 'Liberation Sans', sans-serif">1</tspan>00</text>
<text x="1098.7" y="1745" text-anchor="middle">200</text>
<text x="1503.0" y="1745" text-anchor="middle">300</text>
<text x="1907.2" y="1745" text-anchor="middle">400</text>
<text x="1440.1" y="1188.0" font-size="60" textLength="252.3" lengthAdjust="spacing">G5 - N.P.</text>
<text x="1445.0" y="1262.0" font-size="60" textLength="253.5" lengthAdjust="spacing">G4 - N.P.</text>
<text x="1441.0" y="1335.0" font-size="60" textLength="255.5" lengthAdjust="spacing">G3 - N.P.</text>
<text x="1443.6" y="1412.0" font-size="60" textLength="253.9" lengthAdjust="spacing">G2 - N.P.</text>
<text x="1441.0" y="1482.5" font-size="60" textLength="255.2" lengthAdjust="spacing">G<tspan font-family="Roboto, 'Liberation Sans', sans-serif">1</tspan> - N.P.</text>
<text x="1438.1" y="1556.5" font-size="60" textLength="113.5" lengthAdjust="spacing">Ref.</text>
</g>
<g font-family="Carlito, 'Liberation Sans', sans-serif" font-size="84" fill="#000" style="font-variant-ligatures:none;font-kerning:none">
<text x="659" y="1881.5" textLength="896" lengthAdjust="spacingAndGlyphs">Mid-span Deflection [mm]</text>
<text transform="translate(87.5,1028) rotate(-90)" textLength="350" lengthAdjust="spacingAndGlyphs">Force [kN]</text>
</g>
</svg>
</body></html>
